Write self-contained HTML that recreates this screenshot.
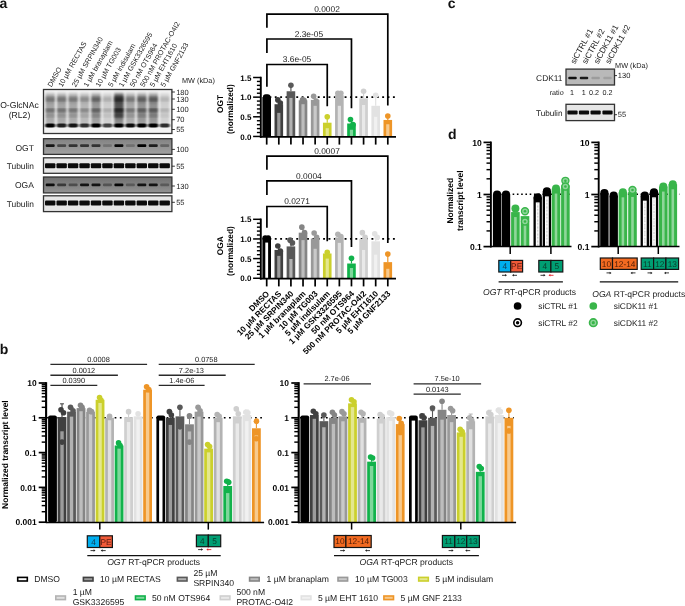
<!DOCTYPE html><html><head><meta charset="utf-8"><title>figure</title><style>html,body{margin:0;padding:0;background:#fff;}svg{display:block;will-change:transform}svg text{text-rendering:geometricPrecision}</style></head><body>
<svg width="685" height="606" viewBox="0 0 685 606" font-family="Liberation Sans, Arial, sans-serif">
<defs><filter id="b1" x="-20%" y="-50%" width="140%" height="200%"><feGaussianBlur stdDeviation="0.9 0.6"/></filter><filter id="b2" x="-30%" y="-20%" width="160%" height="140%"><feGaussianBlur stdDeviation="1.2 1.8"/></filter><linearGradient id="gg" x1="0" y1="0" x2="0" y2="1"><stop offset="0" stop-color="#828282"/><stop offset="1" stop-color="#a2a2a2"/></linearGradient><linearGradient id="gg2" x1="0" y1="0" x2="0" y2="1"><stop offset="0" stop-color="#707070"/><stop offset="1" stop-color="#929292"/></linearGradient><filter id="b3" x="-20%" y="-50%" width="140%" height="200%"><feGaussianBlur stdDeviation="0.7 0.5"/></filter></defs>
<rect x="0.00" y="0.00" width="685.00" height="606.00" fill="#fff" />
<text x="-0.50" y="7.90" font-size="14" text-anchor="start" font-weight="bold" fill="#111" >a</text>
<text x="-0.30" y="353.60" font-size="14" text-anchor="start" font-weight="bold" fill="#111" >b</text>
<text x="447.80" y="8.10" font-size="14" text-anchor="start" font-weight="bold" fill="#111" >c</text>
<text x="447.90" y="139.40" font-size="14" text-anchor="start" font-weight="bold" fill="#111" >d</text>
<text x="51.40" y="87.60" font-size="7.2" text-anchor="start" transform="rotate(-60.7 51.4 87.6)" fill="#1a1a1a" >DMSO</text>
<text x="62.15" y="87.60" font-size="7.2" text-anchor="start" transform="rotate(-60.7 62.15 87.6)" fill="#1a1a1a" >10 µM RECTAS</text>
<text x="75.70" y="87.60" font-size="7.2" text-anchor="start" transform="rotate(-60.7 75.7 87.6)" fill="#1a1a1a" >25 µM SRPIN340</text>
<text x="87.55" y="87.60" font-size="7.2" text-anchor="start" transform="rotate(-60.7 87.55 87.6)" fill="#1a1a1a" >1 µM branaplam</text>
<text x="99.60" y="87.60" font-size="7.2" text-anchor="start" transform="rotate(-60.7 99.6 87.6)" fill="#1a1a1a" >10 µM TG003</text>
<text x="112.05" y="87.60" font-size="7.2" text-anchor="start" transform="rotate(-60.7 112.05 87.6)" fill="#1a1a1a" >5 µM indisulam</text>
<text x="122.70" y="87.60" font-size="7.2" text-anchor="start" transform="rotate(-60.7 122.7 87.6)" fill="#1a1a1a" >1 µM GSK3326595</text>
<text x="133.75" y="87.60" font-size="7.2" text-anchor="start" transform="rotate(-60.7 133.75 87.6)" fill="#1a1a1a" >50 nM OTS964</text>
<text x="144.00" y="87.60" font-size="7.2" text-anchor="start" transform="rotate(-60.7 144 87.6)" fill="#1a1a1a" >500 nM PROTAC-O4I2</text>
<text x="153.75" y="87.60" font-size="7.2" text-anchor="start" transform="rotate(-60.7 153.75 87.6)" fill="#1a1a1a" >5 µM EHT1610</text>
<text x="164.60" y="87.60" font-size="7.2" text-anchor="start" transform="rotate(-60.7 164.6 87.6)" fill="#1a1a1a" >5 µM GNF2133</text>
<text x="182.00" y="83.20" font-size="7.3" text-anchor="start" fill="#1a1a1a" >MW (kDa)</text>
<rect x="43.50" y="89.50" width="128.40" height="44.00" fill="#f3f3f3" />
<linearGradient id="lg" x1="0" y1="0" x2="0" y2="1"><stop offset="0" stop-color="#000" stop-opacity="0.08"/><stop offset="0.10" stop-color="#000" stop-opacity="0.52"/><stop offset="0.25" stop-color="#000" stop-opacity="0.62"/><stop offset="0.40" stop-color="#000" stop-opacity="0.44"/><stop offset="0.55" stop-color="#000" stop-opacity="0.58"/><stop offset="0.70" stop-color="#000" stop-opacity="0.47"/><stop offset="0.85" stop-color="#000" stop-opacity="0.44"/><stop offset="1" stop-color="#000" stop-opacity="0.40"/></linearGradient>
<clipPath id="c1"><rect x="43.5" y="89.5" width="128.4" height="44.0"/></clipPath><g clip-path="url(#c1)">
<rect x="45.50" y="92.5" width="9.4" height="33" fill="url(#lg)" opacity="0.68" filter="url(#b2)"/>
<rect x="45.50" y="97.6" width="9.4" height="3.4" fill="#000" opacity="0.28" filter="url(#b2)"/>
<rect x="45.50" y="108.7" width="9.4" height="3.0" fill="#000" opacity="0.37" filter="url(#b2)"/>
<rect x="45.50" y="114.3" width="9.4" height="3.0" fill="#000" opacity="0.16" filter="url(#b2)"/>
<rect x="45.20" y="123.6" width="10" height="4.0" rx="1.8" fill="#000" opacity="1.00" filter="url(#b1)"/>
<rect x="56.95" y="92.5" width="9.4" height="33" fill="url(#lg)" opacity="0.68" filter="url(#b2)"/>
<rect x="56.95" y="97.6" width="9.4" height="3.4" fill="#000" opacity="0.28" filter="url(#b2)"/>
<rect x="56.95" y="108.7" width="9.4" height="3.0" fill="#000" opacity="0.37" filter="url(#b2)"/>
<rect x="56.95" y="114.3" width="9.4" height="3.0" fill="#000" opacity="0.16" filter="url(#b2)"/>
<rect x="56.65" y="123.6" width="10" height="4.0" rx="1.8" fill="#000" opacity="0.85" filter="url(#b1)"/>
<rect x="68.40" y="92.5" width="9.4" height="33" fill="url(#lg)" opacity="0.66" filter="url(#b2)"/>
<rect x="68.40" y="97.6" width="9.4" height="3.4" fill="#000" opacity="0.27" filter="url(#b2)"/>
<rect x="68.40" y="108.7" width="9.4" height="3.0" fill="#000" opacity="0.36" filter="url(#b2)"/>
<rect x="68.40" y="114.3" width="9.4" height="3.0" fill="#000" opacity="0.16" filter="url(#b2)"/>
<rect x="68.10" y="123.6" width="10" height="4.0" rx="1.8" fill="#000" opacity="0.90" filter="url(#b1)"/>
<rect x="79.85" y="92.5" width="9.4" height="33" fill="url(#lg)" opacity="0.53" filter="url(#b2)"/>
<rect x="79.85" y="97.6" width="9.4" height="3.4" fill="#000" opacity="0.22" filter="url(#b2)"/>
<rect x="79.85" y="108.7" width="9.4" height="3.0" fill="#000" opacity="0.29" filter="url(#b2)"/>
<rect x="79.85" y="114.3" width="9.4" height="3.0" fill="#000" opacity="0.13" filter="url(#b2)"/>
<rect x="79.55" y="123.6" width="10" height="4.0" rx="1.8" fill="#000" opacity="0.78" filter="url(#b1)"/>
<rect x="91.30" y="92.5" width="9.4" height="33" fill="url(#lg)" opacity="0.79" filter="url(#b2)"/>
<rect x="91.30" y="97.6" width="9.4" height="3.4" fill="#000" opacity="0.33" filter="url(#b2)"/>
<rect x="91.30" y="108.7" width="9.4" height="3.0" fill="#000" opacity="0.43" filter="url(#b2)"/>
<rect x="91.30" y="114.3" width="9.4" height="3.0" fill="#000" opacity="0.19" filter="url(#b2)"/>
<rect x="91.00" y="123.6" width="10" height="4.0" rx="1.8" fill="#000" opacity="1.00" filter="url(#b1)"/>
<rect x="102.75" y="92.5" width="9.4" height="33" fill="url(#lg)" opacity="0.33" filter="url(#b2)"/>
<rect x="102.75" y="97.6" width="9.4" height="3.4" fill="#000" opacity="0.14" filter="url(#b2)"/>
<rect x="102.75" y="108.7" width="9.4" height="3.0" fill="#000" opacity="0.18" filter="url(#b2)"/>
<rect x="102.75" y="114.3" width="9.4" height="3.0" fill="#000" opacity="0.08" filter="url(#b2)"/>
<rect x="102.45" y="123.6" width="10" height="4.0" rx="1.8" fill="#000" opacity="0.70" filter="url(#b1)"/>
<rect x="114.20" y="92.5" width="9.4" height="33" fill="url(#lg)" opacity="1.00" filter="url(#b2)"/>
<rect x="114.20" y="97.6" width="9.4" height="3.4" fill="#000" opacity="0.52" filter="url(#b2)"/>
<rect x="114.20" y="108.7" width="9.4" height="3.0" fill="#000" opacity="0.69" filter="url(#b2)"/>
<rect x="114.20" y="114.3" width="9.4" height="3.0" fill="#000" opacity="0.30" filter="url(#b2)"/>
<rect x="114.20" y="94" width="9.4" height="24" fill="#000" opacity="0.35" filter="url(#b2)"/>
<rect x="113.90" y="123.6" width="10" height="4.0" rx="1.8" fill="#000" opacity="1.00" filter="url(#b1)"/>
<rect x="125.65" y="92.5" width="9.4" height="33" fill="url(#lg)" opacity="0.66" filter="url(#b2)"/>
<rect x="125.65" y="97.6" width="9.4" height="3.4" fill="#000" opacity="0.27" filter="url(#b2)"/>
<rect x="125.65" y="108.7" width="9.4" height="3.0" fill="#000" opacity="0.36" filter="url(#b2)"/>
<rect x="125.65" y="114.3" width="9.4" height="3.0" fill="#000" opacity="0.16" filter="url(#b2)"/>
<rect x="125.35" y="123.6" width="10" height="4.0" rx="1.8" fill="#000" opacity="0.95" filter="url(#b1)"/>
<rect x="137.10" y="92.5" width="9.4" height="33" fill="url(#lg)" opacity="0.83" filter="url(#b2)"/>
<rect x="137.10" y="97.6" width="9.4" height="3.4" fill="#000" opacity="0.34" filter="url(#b2)"/>
<rect x="137.10" y="108.7" width="9.4" height="3.0" fill="#000" opacity="0.45" filter="url(#b2)"/>
<rect x="137.10" y="114.3" width="9.4" height="3.0" fill="#000" opacity="0.20" filter="url(#b2)"/>
<rect x="136.80" y="123.6" width="10" height="4.0" rx="1.8" fill="#000" opacity="1.00" filter="url(#b1)"/>
<rect x="148.55" y="92.5" width="9.4" height="33" fill="url(#lg)" opacity="0.86" filter="url(#b2)"/>
<rect x="148.55" y="97.6" width="9.4" height="3.4" fill="#000" opacity="0.36" filter="url(#b2)"/>
<rect x="148.55" y="108.7" width="9.4" height="3.0" fill="#000" opacity="0.47" filter="url(#b2)"/>
<rect x="148.55" y="114.3" width="9.4" height="3.0" fill="#000" opacity="0.21" filter="url(#b2)"/>
<rect x="148.25" y="123.6" width="10" height="4.0" rx="1.8" fill="#000" opacity="1.00" filter="url(#b1)"/>
<rect x="160.00" y="92.5" width="9.4" height="33" fill="url(#lg)" opacity="0.30" filter="url(#b2)"/>
<rect x="160.00" y="97.6" width="9.4" height="3.4" fill="#000" opacity="0.12" filter="url(#b2)"/>
<rect x="160.00" y="108.7" width="9.4" height="3.0" fill="#000" opacity="0.16" filter="url(#b2)"/>
<rect x="160.00" y="114.3" width="9.4" height="3.0" fill="#000" opacity="0.07" filter="url(#b2)"/>
<rect x="159.70" y="123.6" width="10" height="4.0" rx="1.8" fill="#000" opacity="0.80" filter="url(#b1)"/>
</g>
<rect x="43.50" y="89.50" width="128.40" height="44.00" fill="none" stroke="#333" stroke-width="1.3" />
<rect x="43.50" y="138.70" width="128.40" height="15.70" fill="url(#gg)" />
<rect x="45.70" y="144.25" width="9.0" height="2.7" rx="1" fill="#000" opacity="0.85" filter="url(#b3)"/>
<rect x="57.15" y="144.25" width="9.0" height="2.7" rx="1" fill="#000" opacity="0.50" filter="url(#b3)"/>
<rect x="68.60" y="144.25" width="9.0" height="2.7" rx="1" fill="#000" opacity="0.65" filter="url(#b3)"/>
<rect x="80.05" y="144.25" width="9.0" height="2.7" rx="1" fill="#000" opacity="0.65" filter="url(#b3)"/>
<rect x="91.50" y="144.25" width="9.0" height="2.7" rx="1" fill="#000" opacity="0.65" filter="url(#b3)"/>
<rect x="102.95" y="144.25" width="9.0" height="2.7" rx="1" fill="#000" opacity="0.20" filter="url(#b3)"/>
<rect x="114.40" y="144.25" width="9.0" height="2.7" rx="1" fill="#000" opacity="0.95" filter="url(#b3)"/>
<rect x="125.85" y="144.25" width="9.0" height="2.7" rx="1" fill="#000" opacity="0.22" filter="url(#b3)"/>
<rect x="137.30" y="144.25" width="9.0" height="2.7" rx="1" fill="#000" opacity="1.00" filter="url(#b3)"/>
<rect x="148.75" y="144.25" width="9.0" height="2.7" rx="1" fill="#000" opacity="0.80" filter="url(#b3)"/>
<rect x="160.20" y="144.25" width="9.0" height="2.7" rx="1" fill="#000" opacity="0.30" filter="url(#b3)"/>
<rect x="43.50" y="138.70" width="128.40" height="15.70" fill="none" stroke="#333" stroke-width="1.3" />
<rect x="43.50" y="157.80" width="128.40" height="15.50" fill="#e6e6e6" />
<rect x="45.00" y="163.35" width="10.4" height="4.9" rx="1" fill="#000" opacity="0.95" filter="url(#b3)"/>
<rect x="56.45" y="163.35" width="10.4" height="4.9" rx="1" fill="#000" opacity="0.95" filter="url(#b3)"/>
<rect x="67.90" y="163.35" width="10.4" height="4.9" rx="1" fill="#000" opacity="0.95" filter="url(#b3)"/>
<rect x="79.35" y="163.35" width="10.4" height="4.9" rx="1" fill="#000" opacity="0.95" filter="url(#b3)"/>
<rect x="90.80" y="163.35" width="10.4" height="4.9" rx="1" fill="#000" opacity="0.95" filter="url(#b3)"/>
<rect x="102.25" y="163.35" width="10.4" height="4.9" rx="1" fill="#000" opacity="0.95" filter="url(#b3)"/>
<rect x="113.70" y="163.35" width="10.4" height="4.9" rx="1" fill="#000" opacity="0.95" filter="url(#b3)"/>
<rect x="125.15" y="163.35" width="10.4" height="4.9" rx="1" fill="#000" opacity="0.95" filter="url(#b3)"/>
<rect x="136.60" y="163.35" width="10.4" height="4.9" rx="1" fill="#000" opacity="0.95" filter="url(#b3)"/>
<rect x="148.05" y="163.35" width="10.4" height="4.9" rx="1" fill="#000" opacity="0.95" filter="url(#b3)"/>
<rect x="159.50" y="163.35" width="10.4" height="4.9" rx="1" fill="#000" opacity="0.95" filter="url(#b3)"/>
<rect x="43.50" y="157.80" width="128.40" height="15.50" fill="none" stroke="#333" stroke-width="1.3" />
<rect x="43.50" y="177.00" width="128.40" height="15.90" fill="url(#gg2)" />
<rect x="45.70" y="183.45" width="9.0" height="2.7" rx="1" fill="#000" opacity="0.90" filter="url(#b3)"/>
<rect x="57.15" y="183.45" width="9.0" height="2.7" rx="1" fill="#000" opacity="0.55" filter="url(#b3)"/>
<rect x="68.60" y="183.45" width="9.0" height="2.7" rx="1" fill="#000" opacity="0.40" filter="url(#b3)"/>
<rect x="80.05" y="183.45" width="9.0" height="2.7" rx="1" fill="#000" opacity="0.85" filter="url(#b3)"/>
<rect x="91.50" y="183.45" width="9.0" height="2.7" rx="1" fill="#000" opacity="0.85" filter="url(#b3)"/>
<rect x="102.95" y="183.45" width="9.0" height="2.7" rx="1" fill="#000" opacity="0.35" filter="url(#b3)"/>
<rect x="114.40" y="183.45" width="9.0" height="2.7" rx="1" fill="#000" opacity="0.95" filter="url(#b3)"/>
<rect x="125.85" y="183.45" width="9.0" height="2.7" rx="1" fill="#000" opacity="0.30" filter="url(#b3)"/>
<rect x="137.30" y="183.45" width="9.0" height="2.7" rx="1" fill="#000" opacity="0.85" filter="url(#b3)"/>
<rect x="148.75" y="183.45" width="9.0" height="2.7" rx="1" fill="#000" opacity="0.85" filter="url(#b3)"/>
<rect x="160.20" y="183.45" width="9.0" height="2.7" rx="1" fill="#000" opacity="0.30" filter="url(#b3)"/>
<rect x="43.50" y="177.00" width="128.40" height="15.90" fill="none" stroke="#333" stroke-width="1.3" />
<rect x="43.50" y="195.80" width="128.40" height="15.80" fill="#e6e6e6" />
<rect x="45.00" y="200.55" width="10.4" height="4.9" rx="1" fill="#000" opacity="0.95" filter="url(#b3)"/>
<rect x="56.45" y="200.55" width="10.4" height="4.9" rx="1" fill="#000" opacity="0.95" filter="url(#b3)"/>
<rect x="67.90" y="200.55" width="10.4" height="4.9" rx="1" fill="#000" opacity="0.95" filter="url(#b3)"/>
<rect x="79.35" y="200.55" width="10.4" height="4.9" rx="1" fill="#000" opacity="0.95" filter="url(#b3)"/>
<rect x="90.80" y="200.55" width="10.4" height="4.9" rx="1" fill="#000" opacity="0.95" filter="url(#b3)"/>
<rect x="102.25" y="200.55" width="10.4" height="4.9" rx="1" fill="#000" opacity="0.95" filter="url(#b3)"/>
<rect x="113.70" y="200.55" width="10.4" height="4.9" rx="1" fill="#000" opacity="0.95" filter="url(#b3)"/>
<rect x="125.15" y="200.55" width="10.4" height="4.9" rx="1" fill="#000" opacity="0.95" filter="url(#b3)"/>
<rect x="136.60" y="200.55" width="10.4" height="4.9" rx="1" fill="#000" opacity="0.95" filter="url(#b3)"/>
<rect x="148.05" y="200.55" width="10.4" height="4.9" rx="1" fill="#000" opacity="0.95" filter="url(#b3)"/>
<rect x="159.50" y="200.55" width="10.4" height="4.9" rx="1" fill="#000" opacity="0.95" filter="url(#b3)"/>
<rect x="43.50" y="195.80" width="128.40" height="15.80" fill="none" stroke="#333" stroke-width="1.3" />
<line x1="171.90" y1="92.00" x2="174.90" y2="92.00" stroke="#222" stroke-width="0.9" />
<text x="176.20" y="94.70" font-size="7.5" text-anchor="start" fill="#1a1a1a" >180</text>
<line x1="171.90" y1="99.00" x2="174.90" y2="99.00" stroke="#222" stroke-width="0.9" />
<text x="176.20" y="101.70" font-size="7.5" text-anchor="start" fill="#1a1a1a" >130</text>
<line x1="171.90" y1="109.30" x2="174.90" y2="109.30" stroke="#222" stroke-width="0.9" />
<text x="176.20" y="112.00" font-size="7.5" text-anchor="start" fill="#1a1a1a" >100</text>
<line x1="171.90" y1="119.70" x2="174.90" y2="119.70" stroke="#222" stroke-width="0.9" />
<text x="176.20" y="122.40" font-size="7.5" text-anchor="start" fill="#1a1a1a" >70</text>
<line x1="171.90" y1="129.50" x2="174.90" y2="129.50" stroke="#222" stroke-width="0.9" />
<text x="176.20" y="132.20" font-size="7.5" text-anchor="start" fill="#1a1a1a" >55</text>
<line x1="171.90" y1="149.40" x2="174.90" y2="149.40" stroke="#222" stroke-width="0.9" />
<text x="176.20" y="152.10" font-size="7.5" text-anchor="start" fill="#1a1a1a" >100</text>
<line x1="171.90" y1="166.20" x2="174.90" y2="166.20" stroke="#222" stroke-width="0.9" />
<text x="176.20" y="168.90" font-size="7.5" text-anchor="start" fill="#1a1a1a" >55</text>
<line x1="171.90" y1="186.00" x2="174.90" y2="186.00" stroke="#222" stroke-width="0.9" />
<text x="176.20" y="188.70" font-size="7.5" text-anchor="start" fill="#1a1a1a" >130</text>
<line x1="171.90" y1="202.30" x2="174.90" y2="202.30" stroke="#222" stroke-width="0.9" />
<text x="176.20" y="205.00" font-size="7.5" text-anchor="start" fill="#1a1a1a" >55</text>
<text x="19.50" y="107.80" font-size="8.6" text-anchor="middle" fill="#1a1a1a" >O-GlcNAc</text>
<text x="19.50" y="118.40" font-size="8.6" text-anchor="middle" fill="#1a1a1a" >(RL2)</text>
<text x="33.90" y="150.60" font-size="8.5" text-anchor="end" fill="#1a1a1a" >OGT</text>
<text x="33.90" y="169.20" font-size="8.4" text-anchor="end" fill="#1a1a1a" >Tubulin</text>
<text x="33.90" y="188.20" font-size="8.5" text-anchor="end" fill="#1a1a1a" >OGA</text>
<text x="33.90" y="206.80" font-size="8.4" text-anchor="end" fill="#1a1a1a" >Tubulin</text>
<line x1="264.05" y1="97.15" x2="395.2" y2="97.15" stroke="#000" stroke-width="1.7" stroke-dasharray="1.9 3.47" />
<line x1="266.70" y1="96.36" x2="266.70" y2="97.15" stroke="#000000" stroke-width="1.2" />
<rect x="262.40" y="97.15" width="8.60" height="39.30" fill="#000000" />
<circle cx="265.70" cy="97.15" r="2.8" fill="#000000"/>
<circle cx="267.70" cy="97.15" r="2.8" fill="#000000"/>
<line x1="278.81" y1="100.29" x2="278.81" y2="104.22" stroke="#404040" stroke-width="1.2" />
<rect x="274.51" y="104.22" width="8.60" height="32.23" fill="#404040" />
<rect x="277.21" y="112.87" width="3.20" height="23.58" fill="#9c9c9c" />
<circle cx="277.81" cy="99.90" r="2.8" fill="#404040"/>
<circle cx="280.31" cy="103.04" r="2.8" fill="#404040"/>
<line x1="290.92" y1="85.36" x2="290.92" y2="91.25" stroke="#595959" stroke-width="1.2" />
<rect x="286.62" y="91.25" width="8.60" height="45.19" fill="#595959" />
<rect x="289.32" y="97.94" width="3.20" height="38.51" fill="#b2b2b2" />
<circle cx="290.92" cy="85.36" r="2.8" fill="#595959"/>
<line x1="303.03" y1="99.11" x2="303.03" y2="100.29" stroke="#858585" stroke-width="1.2" />
<rect x="298.73" y="100.29" width="8.60" height="36.16" fill="#858585" />
<rect x="301.43" y="104.22" width="3.20" height="32.23" fill="#bdbdbd" />
<circle cx="302.53" cy="99.90" r="2.8" fill="#858585"/>
<circle cx="304.03" cy="100.29" r="2.8" fill="#858585"/>
<line x1="315.14" y1="97.54" x2="315.14" y2="99.90" stroke="#999999" stroke-width="1.2" />
<rect x="310.84" y="99.90" width="8.60" height="36.55" fill="#999999" />
<rect x="313.54" y="105.80" width="3.20" height="30.65" fill="#c9c9c9" />
<circle cx="313.64" cy="96.36" r="2.8" fill="#999999"/>
<circle cx="316.14" cy="101.08" r="2.8" fill="#999999"/>
<line x1="327.25" y1="117.19" x2="327.25" y2="122.69" stroke="#cbd02c" stroke-width="1.2" />
<rect x="322.95" y="122.69" width="8.60" height="13.75" fill="#cbd02c" />
<rect x="325.65" y="128.20" width="3.20" height="8.25" fill="#e4e78e" />
<circle cx="327.25" cy="116.80" r="2.8" fill="#cbd02c"/>
<line x1="339.36" y1="92.04" x2="339.36" y2="95.18" stroke="#b3b3b3" stroke-width="1.2" />
<rect x="335.06" y="95.18" width="8.60" height="41.27" fill="#b3b3b3" />
<rect x="337.76" y="105.80" width="3.20" height="30.65" fill="#e0e0e0" />
<circle cx="337.86" cy="93.22" r="2.8" fill="#b3b3b3"/>
<circle cx="340.86" cy="93.22" r="2.8" fill="#b3b3b3"/>
<line x1="351.47" y1="120.34" x2="351.47" y2="123.48" stroke="#11b24b" stroke-width="1.2" />
<rect x="347.17" y="123.48" width="8.60" height="12.97" fill="#11b24b" />
<rect x="349.87" y="129.77" width="3.20" height="6.68" fill="#7fd79c" />
<circle cx="350.47" cy="119.55" r="2.8" fill="#11b24b"/>
<circle cx="352.97" cy="124.66" r="2.8" fill="#11b24b"/>
<line x1="363.58" y1="92.43" x2="363.58" y2="98.33" stroke="#cfcfcf" stroke-width="1.2" />
<rect x="359.28" y="98.33" width="8.60" height="38.12" fill="#cfcfcf" />
<rect x="361.98" y="105.01" width="3.20" height="31.44" fill="#e9e9e9" />
<circle cx="363.58" cy="91.25" r="2.8" fill="#cfcfcf"/>
<line x1="375.69" y1="95.97" x2="375.69" y2="105.80" stroke="#e2e2e2" stroke-width="1.2" />
<rect x="371.39" y="105.80" width="8.60" height="30.65" fill="#e2e2e2" />
<rect x="374.09" y="116.80" width="3.20" height="19.65" fill="#f1f1f1" />
<circle cx="375.69" cy="95.18" r="2.8" fill="#e2e2e2"/>
<line x1="387.80" y1="116.80" x2="387.80" y2="119.94" stroke="#ee9527" stroke-width="1.2" />
<rect x="383.50" y="119.94" width="8.60" height="16.51" fill="#ee9527" />
<rect x="386.20" y="124.27" width="3.20" height="12.18" fill="#f7ca8e" />
<circle cx="387.80" cy="116.01" r="2.8" fill="#ee9527"/>
<line x1="260.80" y1="76.75" x2="260.80" y2="137.75" stroke="#000" stroke-width="1.9" />
<line x1="259.90" y1="136.90" x2="396.00" y2="136.90" stroke="#000" stroke-width="1.7" />
<line x1="253.10" y1="136.45" x2="260.80" y2="136.45" stroke="#000" stroke-width="1.5" />
<text x="251.40" y="139.50" font-size="8.0" text-anchor="end" font-weight="bold" fill="#000" >0.0</text>
<line x1="256.90" y1="132.52" x2="260.80" y2="132.52" stroke="#000" stroke-width="1.4" />
<line x1="256.90" y1="128.59" x2="260.80" y2="128.59" stroke="#000" stroke-width="1.4" />
<line x1="256.90" y1="124.66" x2="260.80" y2="124.66" stroke="#000" stroke-width="1.4" />
<line x1="256.90" y1="120.73" x2="260.80" y2="120.73" stroke="#000" stroke-width="1.4" />
<line x1="253.10" y1="116.80" x2="260.80" y2="116.80" stroke="#000" stroke-width="1.5" />
<text x="251.40" y="119.85" font-size="8.0" text-anchor="end" font-weight="bold" fill="#000" >0.5</text>
<line x1="256.90" y1="112.87" x2="260.80" y2="112.87" stroke="#000" stroke-width="1.4" />
<line x1="256.90" y1="108.94" x2="260.80" y2="108.94" stroke="#000" stroke-width="1.4" />
<line x1="256.90" y1="105.01" x2="260.80" y2="105.01" stroke="#000" stroke-width="1.4" />
<line x1="256.90" y1="101.08" x2="260.80" y2="101.08" stroke="#000" stroke-width="1.4" />
<line x1="253.10" y1="97.15" x2="260.80" y2="97.15" stroke="#000" stroke-width="1.5" />
<text x="251.40" y="100.20" font-size="8.0" text-anchor="end" font-weight="bold" fill="#000" >1.0</text>
<line x1="256.90" y1="93.22" x2="260.80" y2="93.22" stroke="#000" stroke-width="1.4" />
<line x1="256.90" y1="89.29" x2="260.80" y2="89.29" stroke="#000" stroke-width="1.4" />
<line x1="256.90" y1="85.36" x2="260.80" y2="85.36" stroke="#000" stroke-width="1.4" />
<line x1="256.90" y1="81.43" x2="260.80" y2="81.43" stroke="#000" stroke-width="1.4" />
<line x1="253.10" y1="77.50" x2="260.80" y2="77.50" stroke="#000" stroke-width="1.5" />
<text x="251.40" y="80.55" font-size="8.0" text-anchor="end" font-weight="bold" fill="#000" >1.5</text>
<line x1="266.70" y1="136.90" x2="266.70" y2="144.60" stroke="#000" stroke-width="1.7" />
<line x1="278.81" y1="136.90" x2="278.81" y2="144.60" stroke="#000" stroke-width="1.7" />
<line x1="290.92" y1="136.90" x2="290.92" y2="144.60" stroke="#000" stroke-width="1.7" />
<line x1="303.03" y1="136.90" x2="303.03" y2="144.60" stroke="#000" stroke-width="1.7" />
<line x1="315.14" y1="136.90" x2="315.14" y2="144.60" stroke="#000" stroke-width="1.7" />
<line x1="327.25" y1="136.90" x2="327.25" y2="144.60" stroke="#000" stroke-width="1.7" />
<line x1="339.36" y1="136.90" x2="339.36" y2="144.60" stroke="#000" stroke-width="1.7" />
<line x1="351.47" y1="136.90" x2="351.47" y2="144.60" stroke="#000" stroke-width="1.7" />
<line x1="363.58" y1="136.90" x2="363.58" y2="144.60" stroke="#000" stroke-width="1.7" />
<line x1="375.69" y1="136.90" x2="375.69" y2="144.60" stroke="#000" stroke-width="1.7" />
<line x1="387.80" y1="136.90" x2="387.80" y2="144.60" stroke="#000" stroke-width="1.7" />
<polyline points="266.9,27.8 266.9,14.1 387.80,14.1 387.80,105.5" fill="none" stroke="#000" stroke-width="1.7"/>
<text x="327.00" y="11.90" font-size="8.4" text-anchor="middle" fill="#1a1a1a" >0.0002</text>
<polyline points="266.9,52.9 266.9,39 351.47,39 351.47,108.3" fill="none" stroke="#000" stroke-width="1.7"/>
<text x="308.90" y="36.80" font-size="8.4" text-anchor="middle" fill="#1a1a1a" >2.3e-05</text>
<polyline points="266.9,86.7 266.9,64.5 327.25,64.5 327.25,106.3" fill="none" stroke="#000" stroke-width="1.7"/>
<text x="297.00" y="62.30" font-size="8.4" text-anchor="middle" fill="#1a1a1a" >3.6e-05</text>
<text x="222.80" y="103.97" font-size="8.3" text-anchor="middle" font-weight="bold" transform="rotate(-90 222.8 103.975)" fill="#000" >OGT</text>
<text x="233.00" y="109.17" font-size="8.4" text-anchor="middle" font-weight="bold" transform="rotate(-90 233 109.175)" fill="#000" >(normalized)</text>
<line x1="264.05" y1="238.95" x2="395.2" y2="238.95" stroke="#000" stroke-width="1.7" stroke-dasharray="1.9 3.47" />
<line x1="266.70" y1="237.77" x2="266.70" y2="237.77" stroke="#000000" stroke-width="1.2" />
<rect x="262.40" y="237.77" width="8.60" height="40.48" fill="#000000" />
<rect x="265.30" y="242.57" width="2.80" height="35.68" fill="#fff" />
<circle cx="265.20" cy="238.16" r="2.8" fill="#000000"/>
<circle cx="268.20" cy="238.16" r="2.8" fill="#000000"/>
<line x1="278.81" y1="246.81" x2="278.81" y2="249.95" stroke="#404040" stroke-width="1.2" />
<rect x="274.51" y="249.95" width="8.60" height="28.30" fill="#404040" />
<rect x="277.21" y="255.85" width="3.20" height="22.40" fill="#9c9c9c" />
<circle cx="277.81" cy="246.02" r="2.8" fill="#404040"/>
<circle cx="280.31" cy="251.13" r="2.8" fill="#404040"/>
<line x1="290.92" y1="241.70" x2="290.92" y2="246.42" stroke="#595959" stroke-width="1.2" />
<rect x="286.62" y="246.42" width="8.60" height="31.83" fill="#595959" />
<rect x="289.32" y="258.99" width="3.20" height="19.26" fill="#b2b2b2" />
<circle cx="290.12" cy="240.13" r="2.8" fill="#595959"/>
<circle cx="292.42" cy="242.88" r="2.8" fill="#595959"/>
<line x1="303.03" y1="227.95" x2="303.03" y2="232.66" stroke="#858585" stroke-width="1.2" />
<rect x="298.73" y="232.66" width="8.60" height="45.59" fill="#858585" />
<rect x="301.43" y="240.13" width="3.20" height="38.12" fill="#bdbdbd" />
<circle cx="301.83" cy="227.16" r="2.8" fill="#858585"/>
<circle cx="304.53" cy="232.66" r="2.8" fill="#858585"/>
<line x1="315.14" y1="234.63" x2="315.14" y2="238.56" stroke="#999999" stroke-width="1.2" />
<rect x="310.84" y="238.56" width="8.60" height="39.69" fill="#999999" />
<rect x="313.54" y="248.78" width="3.20" height="29.47" fill="#c9c9c9" />
<circle cx="314.14" cy="233.06" r="2.8" fill="#999999"/>
<circle cx="316.64" cy="237.38" r="2.8" fill="#999999"/>
<line x1="327.25" y1="251.92" x2="327.25" y2="253.49" stroke="#cbd02c" stroke-width="1.2" />
<rect x="322.95" y="253.49" width="8.60" height="24.76" fill="#cbd02c" />
<rect x="325.65" y="258.60" width="3.20" height="19.65" fill="#e4e78e" />
<circle cx="327.25" cy="252.31" r="2.8" fill="#cbd02c"/>
<line x1="339.36" y1="235.41" x2="339.36" y2="237.38" stroke="#b3b3b3" stroke-width="1.2" />
<rect x="335.06" y="237.38" width="8.60" height="40.87" fill="#b3b3b3" />
<rect x="337.76" y="242.88" width="3.20" height="35.37" fill="#e0e0e0" />
<circle cx="337.86" cy="234.23" r="2.8" fill="#b3b3b3"/>
<circle cx="340.86" cy="236.59" r="2.8" fill="#b3b3b3"/>
<line x1="351.47" y1="259.58" x2="351.47" y2="263.51" stroke="#11b24b" stroke-width="1.2" />
<rect x="347.17" y="263.51" width="8.60" height="14.74" fill="#11b24b" />
<rect x="349.87" y="268.03" width="3.20" height="10.22" fill="#7fd79c" />
<circle cx="351.47" cy="258.21" r="2.8" fill="#11b24b"/>
<line x1="363.58" y1="234.23" x2="363.58" y2="238.95" stroke="#cfcfcf" stroke-width="1.2" />
<rect x="359.28" y="238.95" width="8.60" height="39.30" fill="#cfcfcf" />
<rect x="361.98" y="249.95" width="3.20" height="28.30" fill="#e9e9e9" />
<circle cx="362.38" cy="232.66" r="2.8" fill="#cfcfcf"/>
<circle cx="365.08" cy="237.38" r="2.8" fill="#cfcfcf"/>
<line x1="375.69" y1="236.59" x2="375.69" y2="241.31" stroke="#e2e2e2" stroke-width="1.2" />
<rect x="371.39" y="241.31" width="8.60" height="36.94" fill="#e2e2e2" />
<rect x="374.09" y="254.67" width="3.20" height="23.58" fill="#f1f1f1" />
<circle cx="374.69" cy="233.84" r="2.8" fill="#e2e2e2"/>
<circle cx="377.19" cy="237.38" r="2.8" fill="#e2e2e2"/>
<line x1="387.80" y1="255.06" x2="387.80" y2="262.14" stroke="#ee9527" stroke-width="1.2" />
<rect x="383.50" y="262.14" width="8.60" height="16.11" fill="#ee9527" />
<rect x="386.20" y="268.82" width="3.20" height="9.43" fill="#f7ca8e" />
<circle cx="387.80" cy="254.08" r="2.8" fill="#ee9527"/>
<line x1="260.80" y1="218.55" x2="260.80" y2="279.55" stroke="#000" stroke-width="1.9" />
<line x1="259.90" y1="278.70" x2="396.00" y2="278.70" stroke="#000" stroke-width="1.7" />
<line x1="253.10" y1="278.25" x2="260.80" y2="278.25" stroke="#000" stroke-width="1.5" />
<text x="251.40" y="281.30" font-size="8.0" text-anchor="end" font-weight="bold" fill="#000" >0.0</text>
<line x1="256.90" y1="274.32" x2="260.80" y2="274.32" stroke="#000" stroke-width="1.4" />
<line x1="256.90" y1="270.39" x2="260.80" y2="270.39" stroke="#000" stroke-width="1.4" />
<line x1="256.90" y1="266.46" x2="260.80" y2="266.46" stroke="#000" stroke-width="1.4" />
<line x1="256.90" y1="262.53" x2="260.80" y2="262.53" stroke="#000" stroke-width="1.4" />
<line x1="253.10" y1="258.60" x2="260.80" y2="258.60" stroke="#000" stroke-width="1.5" />
<text x="251.40" y="261.65" font-size="8.0" text-anchor="end" font-weight="bold" fill="#000" >0.5</text>
<line x1="256.90" y1="254.67" x2="260.80" y2="254.67" stroke="#000" stroke-width="1.4" />
<line x1="256.90" y1="250.74" x2="260.80" y2="250.74" stroke="#000" stroke-width="1.4" />
<line x1="256.90" y1="246.81" x2="260.80" y2="246.81" stroke="#000" stroke-width="1.4" />
<line x1="256.90" y1="242.88" x2="260.80" y2="242.88" stroke="#000" stroke-width="1.4" />
<line x1="253.10" y1="238.95" x2="260.80" y2="238.95" stroke="#000" stroke-width="1.5" />
<text x="251.40" y="242.00" font-size="8.0" text-anchor="end" font-weight="bold" fill="#000" >1.0</text>
<line x1="256.90" y1="235.02" x2="260.80" y2="235.02" stroke="#000" stroke-width="1.4" />
<line x1="256.90" y1="231.09" x2="260.80" y2="231.09" stroke="#000" stroke-width="1.4" />
<line x1="256.90" y1="227.16" x2="260.80" y2="227.16" stroke="#000" stroke-width="1.4" />
<line x1="256.90" y1="223.23" x2="260.80" y2="223.23" stroke="#000" stroke-width="1.4" />
<line x1="253.10" y1="219.30" x2="260.80" y2="219.30" stroke="#000" stroke-width="1.5" />
<text x="251.40" y="222.35" font-size="8.0" text-anchor="end" font-weight="bold" fill="#000" >1.5</text>
<line x1="266.70" y1="278.70" x2="266.70" y2="286.40" stroke="#000" stroke-width="1.7" />
<line x1="278.81" y1="278.70" x2="278.81" y2="286.40" stroke="#000" stroke-width="1.7" />
<line x1="290.92" y1="278.70" x2="290.92" y2="286.40" stroke="#000" stroke-width="1.7" />
<line x1="303.03" y1="278.70" x2="303.03" y2="286.40" stroke="#000" stroke-width="1.7" />
<line x1="315.14" y1="278.70" x2="315.14" y2="286.40" stroke="#000" stroke-width="1.7" />
<line x1="327.25" y1="278.70" x2="327.25" y2="286.40" stroke="#000" stroke-width="1.7" />
<line x1="339.36" y1="278.70" x2="339.36" y2="286.40" stroke="#000" stroke-width="1.7" />
<line x1="351.47" y1="278.70" x2="351.47" y2="286.40" stroke="#000" stroke-width="1.7" />
<line x1="363.58" y1="278.70" x2="363.58" y2="286.40" stroke="#000" stroke-width="1.7" />
<line x1="375.69" y1="278.70" x2="375.69" y2="286.40" stroke="#000" stroke-width="1.7" />
<line x1="387.80" y1="278.70" x2="387.80" y2="286.40" stroke="#000" stroke-width="1.7" />
<polyline points="266.9,169.8 266.9,156.1 387.80,156.1 387.80,243" fill="none" stroke="#000" stroke-width="1.7"/>
<text x="327.00" y="153.90" font-size="8.4" text-anchor="middle" fill="#1a1a1a" >0.0007</text>
<polyline points="266.9,195 266.9,180.9 351.47,180.9 351.47,247.1" fill="none" stroke="#000" stroke-width="1.7"/>
<text x="308.90" y="178.70" font-size="8.4" text-anchor="middle" fill="#1a1a1a" >0.0004</text>
<polyline points="266.9,227.85 266.9,206.5 327.25,206.5 327.25,241.3" fill="none" stroke="#000" stroke-width="1.7"/>
<text x="297.00" y="204.30" font-size="8.4" text-anchor="middle" fill="#1a1a1a" >0.0271</text>
<text x="222.80" y="245.78" font-size="8.3" text-anchor="middle" font-weight="bold" transform="rotate(-90 222.8 245.775)" fill="#000" >OGA</text>
<text x="233.00" y="250.97" font-size="8.4" text-anchor="middle" font-weight="bold" transform="rotate(-90 233 250.975)" fill="#000" >(normalized)</text>
<text x="269.90" y="294.30" font-size="8.3" text-anchor="end" font-weight="bold" transform="rotate(-45 269.9 294.3)" fill="#000" >DMSO</text>
<text x="282.01" y="294.30" font-size="8.3" text-anchor="end" font-weight="bold" transform="rotate(-45 282.01 294.3)" fill="#000" >10 µM RECTAS</text>
<text x="294.12" y="294.30" font-size="8.3" text-anchor="end" font-weight="bold" transform="rotate(-45 294.11999999999995 294.3)" fill="#000" >25 µM SRPIN340</text>
<text x="306.23" y="294.30" font-size="8.3" text-anchor="end" font-weight="bold" transform="rotate(-45 306.22999999999996 294.3)" fill="#000" >1 µM branaplam</text>
<text x="318.34" y="294.30" font-size="8.3" text-anchor="end" font-weight="bold" transform="rotate(-45 318.34 294.3)" fill="#000" >10 µM TG003</text>
<text x="330.45" y="294.30" font-size="8.3" text-anchor="end" font-weight="bold" transform="rotate(-45 330.45 294.3)" fill="#000" >5 µM indisulam</text>
<text x="342.56" y="294.30" font-size="8.3" text-anchor="end" font-weight="bold" transform="rotate(-45 342.56 294.3)" fill="#000" >1 µM GSK3326595</text>
<text x="354.67" y="294.30" font-size="8.3" text-anchor="end" font-weight="bold" transform="rotate(-45 354.66999999999996 294.3)" fill="#000" >50 nM OTS964</text>
<text x="366.78" y="294.30" font-size="8.3" text-anchor="end" font-weight="bold" transform="rotate(-45 366.78 294.3)" fill="#000" >500 nM PROTAC-O4I2</text>
<text x="378.89" y="294.30" font-size="8.3" text-anchor="end" font-weight="bold" transform="rotate(-45 378.89 294.3)" fill="#000" >5 µM EHT1610</text>
<text x="391.00" y="294.30" font-size="8.3" text-anchor="end" font-weight="bold" transform="rotate(-45 390.99999999999994 294.3)" fill="#000" >5 µM GNF2133</text>
<text x="575.00" y="64.50" font-size="8.2" text-anchor="start" transform="rotate(-61.5 575.0 64.5)" fill="#1a1a1a" >siCTRL #1</text>
<text x="586.60" y="64.50" font-size="8.2" text-anchor="start" transform="rotate(-61.5 586.6 64.5)" fill="#1a1a1a" >siCTRL #2</text>
<text x="598.20" y="64.50" font-size="8.2" text-anchor="start" transform="rotate(-61.5 598.2 64.5)" fill="#1a1a1a" >siCDK11 #1</text>
<text x="609.80" y="64.50" font-size="8.2" text-anchor="start" transform="rotate(-61.5 609.8 64.5)" fill="#1a1a1a" >siCDK11 #2</text>
<text x="615.10" y="68.00" font-size="7.3" text-anchor="start" fill="#1a1a1a" >MW (kDa)</text>
<rect x="566.00" y="69.10" width="48.50" height="15.90" fill="#b9b9b9" />
<rect x="568.25" y="76.80" width="8.5" height="2.4" rx="1" fill="#000" opacity="0.90" filter="url(#b3)"/>
<rect x="579.75" y="76.80" width="8.5" height="2.4" rx="1" fill="#000" opacity="0.85" filter="url(#b3)"/>
<rect x="591.35" y="76.80" width="8.5" height="2.4" rx="1" fill="#000" opacity="0.15" filter="url(#b3)"/>
<rect x="603.25" y="76.80" width="8.5" height="2.4" rx="1" fill="#000" opacity="0.12" filter="url(#b3)"/>
<rect x="566.00" y="69.10" width="48.50" height="15.90" fill="none" stroke="#333" stroke-width="1.3" />
<rect x="566.00" y="104.30" width="48.50" height="16.30" fill="#e6e6e6" />
<rect x="567.40" y="110.50" width="10.2" height="4" rx="1" fill="#000" opacity="0.95" filter="url(#b3)"/>
<rect x="578.90" y="110.50" width="10.2" height="4" rx="1" fill="#000" opacity="0.95" filter="url(#b3)"/>
<rect x="590.50" y="110.50" width="10.2" height="4" rx="1" fill="#000" opacity="0.95" filter="url(#b3)"/>
<rect x="602.40" y="110.50" width="10.2" height="4" rx="1" fill="#000" opacity="0.95" filter="url(#b3)"/>
<rect x="566.00" y="104.30" width="48.50" height="16.30" fill="none" stroke="#333" stroke-width="1.3" />
<text x="562.50" y="81.00" font-size="8.4" text-anchor="end" fill="#1a1a1a" >CDK11</text>
<text x="562.50" y="116.10" font-size="8.2" text-anchor="end" fill="#1a1a1a" >Tubulin</text>
<text x="549.70" y="95.30" font-size="7.2" text-anchor="start" fill="#1a1a1a" >ratio</text>
<text x="572.10" y="95.30" font-size="7.2" text-anchor="middle" fill="#1a1a1a" >1</text>
<text x="583.80" y="95.30" font-size="7.2" text-anchor="middle" fill="#1a1a1a" >1</text>
<text x="594.00" y="95.30" font-size="7.2" text-anchor="middle" fill="#1a1a1a" >0.2</text>
<text x="607.50" y="95.30" font-size="7.2" text-anchor="middle" fill="#1a1a1a" >0.2</text>
<line x1="614.50" y1="75.60" x2="617.00" y2="75.60" stroke="#222" stroke-width="0.9" />
<text x="617.80" y="78.30" font-size="7.5" text-anchor="start" fill="#1a1a1a" >130</text>
<line x1="614.50" y1="114.70" x2="617.00" y2="114.70" stroke="#222" stroke-width="0.9" />
<text x="617.80" y="117.40" font-size="7.5" text-anchor="start" fill="#1a1a1a" >55</text>
<line x1="47.05" y1="417.80" x2="262" y2="417.80" stroke="#000" stroke-width="1.6" stroke-dasharray="1.7 3.5"/>
<line x1="52.50" y1="417.50" x2="52.50" y2="417.80" stroke="#000000" stroke-width="1.1" />
<line x1="50.50" y1="417.50" x2="54.50" y2="417.50" stroke="#000000" stroke-width="1.0" />
<rect x="48.10" y="415.40" width="8.80" height="107.10" fill="#000000" rx="2"/>
<line x1="62.01" y1="403.83" x2="62.01" y2="417.06" stroke="#404040" stroke-width="1.1" />
<line x1="60.01" y1="403.83" x2="64.01" y2="403.83" stroke="#404040" stroke-width="1.0" />
<rect x="57.61" y="417.06" width="8.80" height="105.44" fill="#404040" />
<rect x="60.31" y="431.29" width="3.40" height="91.21" fill="#9c9c9c" />
<circle cx="61.01" cy="409.78" r="2.8" fill="#404040"/>
<circle cx="63.51" cy="412.71" r="2.8" fill="#404040"/>
<circle cx="62.01" cy="442.12" r="2.8" fill="#404040"/>
<line x1="71.52" y1="407.71" x2="71.52" y2="411.67" stroke="#595959" stroke-width="1.1" />
<line x1="69.52" y1="407.71" x2="73.52" y2="407.71" stroke="#595959" stroke-width="1.0" />
<rect x="67.12" y="411.67" width="8.80" height="110.83" fill="#595959" />
<rect x="69.82" y="416.64" width="3.40" height="105.86" fill="#b2b2b2" />
<circle cx="70.52" cy="407.32" r="2.8" fill="#595959"/>
<circle cx="73.02" cy="410.70" r="2.8" fill="#595959"/>
<line x1="81.03" y1="405.99" x2="81.03" y2="408.10" stroke="#858585" stroke-width="1.1" />
<line x1="79.03" y1="405.99" x2="83.03" y2="405.99" stroke="#858585" stroke-width="1.0" />
<rect x="76.63" y="408.10" width="8.80" height="114.40" fill="#858585" />
<rect x="79.33" y="411.21" width="3.40" height="111.29" fill="#bdbdbd" />
<circle cx="80.53" cy="405.21" r="2.8" fill="#858585"/>
<circle cx="82.03" cy="407.32" r="2.8" fill="#858585"/>
<line x1="90.54" y1="410.23" x2="90.54" y2="411.67" stroke="#999999" stroke-width="1.1" />
<line x1="88.54" y1="410.23" x2="92.54" y2="410.23" stroke="#999999" stroke-width="1.0" />
<rect x="86.14" y="411.67" width="8.80" height="110.83" fill="#999999" />
<rect x="88.84" y="414.11" width="3.40" height="108.39" fill="#c9c9c9" />
<circle cx="89.54" cy="410.23" r="2.8" fill="#999999"/>
<circle cx="91.54" cy="411.67" r="2.8" fill="#999999"/>
<line x1="100.05" y1="397.64" x2="100.05" y2="399.76" stroke="#cbd02c" stroke-width="1.1" />
<line x1="98.05" y1="397.64" x2="102.05" y2="397.64" stroke="#cbd02c" stroke-width="1.0" />
<rect x="95.65" y="399.76" width="8.80" height="122.74" fill="#cbd02c" />
<rect x="98.35" y="402.87" width="3.40" height="119.63" fill="#e4e78e" />
<circle cx="99.55" cy="397.62" r="2.8" fill="#cbd02c"/>
<circle cx="101.05" cy="400.22" r="2.8" fill="#cbd02c"/>
<line x1="109.56" y1="416.36" x2="109.56" y2="417.80" stroke="#b3b3b3" stroke-width="1.1" />
<line x1="107.56" y1="416.36" x2="111.56" y2="416.36" stroke="#b3b3b3" stroke-width="1.0" />
<rect x="105.16" y="417.80" width="8.80" height="104.70" fill="#b3b3b3" />
<rect x="107.86" y="420.24" width="3.40" height="102.26" fill="#e0e0e0" />
<circle cx="109.56" cy="416.36" r="2.8" fill="#b3b3b3"/>
<line x1="119.07" y1="443.38" x2="119.07" y2="445.50" stroke="#11b24b" stroke-width="1.1" />
<line x1="117.07" y1="443.38" x2="121.07" y2="443.38" stroke="#11b24b" stroke-width="1.0" />
<rect x="114.67" y="445.50" width="8.80" height="77.00" fill="#11b24b" />
<rect x="117.37" y="448.61" width="3.40" height="73.89" fill="#7fd79c" />
<circle cx="118.57" cy="442.90" r="2.8" fill="#11b24b"/>
<circle cx="120.07" cy="445.50" r="2.8" fill="#11b24b"/>
<line x1="128.58" y1="413.10" x2="128.58" y2="417.06" stroke="#cfcfcf" stroke-width="1.1" />
<line x1="126.58" y1="413.10" x2="130.58" y2="413.10" stroke="#cfcfcf" stroke-width="1.0" />
<rect x="124.18" y="417.06" width="8.80" height="105.44" fill="#cfcfcf" />
<rect x="126.88" y="422.03" width="3.40" height="100.47" fill="#e9e9e9" />
<circle cx="128.58" cy="411.67" r="2.8" fill="#cfcfcf"/>
<line x1="138.09" y1="414.25" x2="138.09" y2="416.36" stroke="#e2e2e2" stroke-width="1.1" />
<line x1="136.09" y1="414.25" x2="140.09" y2="414.25" stroke="#e2e2e2" stroke-width="1.0" />
<rect x="133.69" y="416.36" width="8.80" height="106.14" fill="#e2e2e2" />
<rect x="136.39" y="419.47" width="3.40" height="103.03" fill="#f1f1f1" />
<circle cx="138.09" cy="413.83" r="2.8" fill="#e2e2e2"/>
<line x1="147.60" y1="388.03" x2="147.60" y2="389.74" stroke="#ee9527" stroke-width="1.1" />
<line x1="145.60" y1="388.03" x2="149.60" y2="388.03" stroke="#ee9527" stroke-width="1.0" />
<rect x="143.20" y="389.74" width="8.80" height="132.76" fill="#ee9527" />
<rect x="145.90" y="392.46" width="3.40" height="130.04" fill="#f7ca8e" />
<circle cx="146.60" cy="386.76" r="2.8" fill="#ee9527"/>
<circle cx="148.80" cy="389.51" r="2.8" fill="#ee9527"/>
<line x1="160.80" y1="417.50" x2="160.80" y2="417.80" stroke="#000000" stroke-width="1.1" />
<line x1="158.80" y1="417.50" x2="162.80" y2="417.50" stroke="#000000" stroke-width="1.0" />
<rect x="156.40" y="415.40" width="8.80" height="107.10" fill="#000000" rx="2"/>
<rect x="159.10" y="420.60" width="3.40" height="101.90" fill="#fff" />
<line x1="170.36" y1="411.67" x2="170.36" y2="417.80" stroke="#404040" stroke-width="1.1" />
<line x1="168.36" y1="411.67" x2="172.36" y2="411.67" stroke="#404040" stroke-width="1.0" />
<rect x="165.96" y="417.80" width="8.80" height="104.70" fill="#404040" />
<rect x="168.66" y="424.93" width="3.40" height="97.57" fill="#9c9c9c" />
<circle cx="169.36" cy="411.67" r="2.8" fill="#404040"/>
<circle cx="171.36" cy="415.04" r="2.8" fill="#404040"/>
<line x1="179.92" y1="407.48" x2="179.92" y2="416.36" stroke="#595959" stroke-width="1.1" />
<line x1="177.92" y1="407.48" x2="181.92" y2="407.48" stroke="#595959" stroke-width="1.0" />
<rect x="175.52" y="416.36" width="8.80" height="106.14" fill="#595959" />
<rect x="178.22" y="426.24" width="3.40" height="96.26" fill="#b2b2b2" />
<circle cx="179.92" cy="407.32" r="2.8" fill="#595959"/>
<circle cx="179.92" cy="426.84" r="2.8" fill="#595959"/>
<line x1="189.48" y1="418.18" x2="189.48" y2="424.31" stroke="#858585" stroke-width="1.1" />
<line x1="187.48" y1="418.18" x2="191.48" y2="418.18" stroke="#858585" stroke-width="1.0" />
<rect x="185.08" y="424.31" width="8.80" height="98.19" fill="#858585" />
<rect x="187.78" y="431.44" width="3.40" height="91.06" fill="#bdbdbd" />
<circle cx="189.48" cy="415.69" r="2.8" fill="#858585"/>
<circle cx="189.48" cy="442.12" r="2.8" fill="#858585"/>
<line x1="199.04" y1="407.71" x2="199.04" y2="411.67" stroke="#999999" stroke-width="1.1" />
<line x1="197.04" y1="407.71" x2="201.04" y2="407.71" stroke="#999999" stroke-width="1.0" />
<rect x="194.64" y="411.67" width="8.80" height="110.83" fill="#999999" />
<rect x="197.34" y="416.64" width="3.40" height="105.86" fill="#c9c9c9" />
<circle cx="198.04" cy="407.32" r="2.8" fill="#999999"/>
<circle cx="200.04" cy="410.70" r="2.8" fill="#999999"/>
<line x1="208.60" y1="445.88" x2="208.60" y2="448.63" stroke="#cbd02c" stroke-width="1.1" />
<line x1="206.60" y1="445.88" x2="210.60" y2="445.88" stroke="#cbd02c" stroke-width="1.0" />
<rect x="204.20" y="448.63" width="8.80" height="73.87" fill="#cbd02c" />
<rect x="206.90" y="452.39" width="3.40" height="70.11" fill="#e4e78e" />
<circle cx="207.60" cy="444.58" r="2.8" fill="#cbd02c"/>
<circle cx="209.60" cy="446.47" r="2.8" fill="#cbd02c"/>
<line x1="218.16" y1="414.43" x2="218.16" y2="417.80" stroke="#b3b3b3" stroke-width="1.1" />
<line x1="216.16" y1="414.43" x2="220.16" y2="414.43" stroke="#b3b3b3" stroke-width="1.0" />
<rect x="213.76" y="417.80" width="8.80" height="104.70" fill="#b3b3b3" />
<rect x="216.46" y="422.17" width="3.40" height="100.33" fill="#e0e0e0" />
<circle cx="217.16" cy="414.43" r="2.8" fill="#b3b3b3"/>
<circle cx="219.16" cy="416.36" r="2.8" fill="#b3b3b3"/>
<line x1="227.72" y1="479.83" x2="227.72" y2="485.96" stroke="#11b24b" stroke-width="1.1" />
<line x1="225.72" y1="479.83" x2="229.72" y2="479.83" stroke="#11b24b" stroke-width="1.0" />
<rect x="223.32" y="485.96" width="8.80" height="36.54" fill="#11b24b" />
<rect x="226.02" y="493.09" width="3.40" height="29.41" fill="#7fd79c" />
<circle cx="226.72" cy="481.27" r="2.8" fill="#11b24b"/>
<circle cx="228.72" cy="482.31" r="2.8" fill="#11b24b"/>
<line x1="237.28" y1="410.23" x2="237.28" y2="416.36" stroke="#cfcfcf" stroke-width="1.1" />
<line x1="235.28" y1="410.23" x2="239.28" y2="410.23" stroke="#cfcfcf" stroke-width="1.0" />
<rect x="232.88" y="416.36" width="8.80" height="106.14" fill="#cfcfcf" />
<rect x="235.58" y="423.49" width="3.40" height="99.01" fill="#e9e9e9" />
<circle cx="236.28" cy="408.92" r="2.8" fill="#cfcfcf"/>
<circle cx="238.28" cy="413.83" r="2.8" fill="#cfcfcf"/>
<line x1="246.84" y1="409.96" x2="246.84" y2="415.04" stroke="#e2e2e2" stroke-width="1.1" />
<line x1="244.84" y1="409.96" x2="248.84" y2="409.96" stroke="#e2e2e2" stroke-width="1.0" />
<rect x="242.44" y="415.04" width="8.80" height="107.46" fill="#e2e2e2" />
<rect x="245.14" y="421.13" width="3.40" height="101.37" fill="#f1f1f1" />
<circle cx="245.84" cy="412.18" r="2.8" fill="#e2e2e2"/>
<circle cx="247.84" cy="412.71" r="2.8" fill="#e2e2e2"/>
<line x1="256.40" y1="422.15" x2="256.40" y2="428.28" stroke="#ee9527" stroke-width="1.1" />
<line x1="254.40" y1="422.15" x2="258.40" y2="422.15" stroke="#ee9527" stroke-width="1.0" />
<rect x="252.00" y="428.28" width="8.80" height="94.22" fill="#ee9527" />
<rect x="254.70" y="435.40" width="3.40" height="87.10" fill="#f7ca8e" />
<circle cx="256.40" cy="421.17" r="2.8" fill="#ee9527"/>
<circle cx="256.40" cy="438.75" r="2.8" fill="#ee9527"/>
<line x1="38.70" y1="383.00" x2="46.10" y2="383.00" stroke="#000" stroke-width="1.7" />
<text x="36.60" y="386.10" font-size="8.45" text-anchor="end" font-weight="bold" fill="#000" >10</text>
<line x1="41.70" y1="407.32" x2="46.10" y2="407.32" stroke="#000" stroke-width="1.45" />
<line x1="41.70" y1="401.20" x2="46.10" y2="401.20" stroke="#000" stroke-width="1.45" />
<line x1="41.70" y1="396.85" x2="46.10" y2="396.85" stroke="#000" stroke-width="1.45" />
<line x1="41.70" y1="393.48" x2="46.10" y2="393.48" stroke="#000" stroke-width="1.45" />
<line x1="41.70" y1="390.72" x2="46.10" y2="390.72" stroke="#000" stroke-width="1.45" />
<line x1="41.70" y1="388.39" x2="46.10" y2="388.39" stroke="#000" stroke-width="1.45" />
<line x1="41.70" y1="386.37" x2="46.10" y2="386.37" stroke="#000" stroke-width="1.45" />
<line x1="41.70" y1="384.59" x2="46.10" y2="384.59" stroke="#000" stroke-width="1.45" />
<line x1="38.70" y1="417.80" x2="46.10" y2="417.80" stroke="#000" stroke-width="1.7" />
<text x="36.60" y="420.90" font-size="8.45" text-anchor="end" font-weight="bold" fill="#000" >1</text>
<line x1="41.70" y1="442.12" x2="46.10" y2="442.12" stroke="#000" stroke-width="1.45" />
<line x1="41.70" y1="436.00" x2="46.10" y2="436.00" stroke="#000" stroke-width="1.45" />
<line x1="41.70" y1="431.65" x2="46.10" y2="431.65" stroke="#000" stroke-width="1.45" />
<line x1="41.70" y1="428.28" x2="46.10" y2="428.28" stroke="#000" stroke-width="1.45" />
<line x1="41.70" y1="425.52" x2="46.10" y2="425.52" stroke="#000" stroke-width="1.45" />
<line x1="41.70" y1="423.19" x2="46.10" y2="423.19" stroke="#000" stroke-width="1.45" />
<line x1="41.70" y1="421.17" x2="46.10" y2="421.17" stroke="#000" stroke-width="1.45" />
<line x1="41.70" y1="419.39" x2="46.10" y2="419.39" stroke="#000" stroke-width="1.45" />
<line x1="38.70" y1="452.60" x2="46.10" y2="452.60" stroke="#000" stroke-width="1.7" />
<text x="36.60" y="455.70" font-size="8.45" text-anchor="end" font-weight="bold" fill="#000" >0.1</text>
<line x1="41.70" y1="476.92" x2="46.10" y2="476.92" stroke="#000" stroke-width="1.45" />
<line x1="41.70" y1="470.80" x2="46.10" y2="470.80" stroke="#000" stroke-width="1.45" />
<line x1="41.70" y1="466.45" x2="46.10" y2="466.45" stroke="#000" stroke-width="1.45" />
<line x1="41.70" y1="463.08" x2="46.10" y2="463.08" stroke="#000" stroke-width="1.45" />
<line x1="41.70" y1="460.32" x2="46.10" y2="460.32" stroke="#000" stroke-width="1.45" />
<line x1="41.70" y1="457.99" x2="46.10" y2="457.99" stroke="#000" stroke-width="1.45" />
<line x1="41.70" y1="455.97" x2="46.10" y2="455.97" stroke="#000" stroke-width="1.45" />
<line x1="41.70" y1="454.19" x2="46.10" y2="454.19" stroke="#000" stroke-width="1.45" />
<line x1="38.70" y1="487.40" x2="46.10" y2="487.40" stroke="#000" stroke-width="1.7" />
<text x="36.60" y="490.50" font-size="8.45" text-anchor="end" font-weight="bold" fill="#000" >0.01</text>
<line x1="41.70" y1="511.72" x2="46.10" y2="511.72" stroke="#000" stroke-width="1.45" />
<line x1="41.70" y1="505.60" x2="46.10" y2="505.60" stroke="#000" stroke-width="1.45" />
<line x1="41.70" y1="501.25" x2="46.10" y2="501.25" stroke="#000" stroke-width="1.45" />
<line x1="41.70" y1="497.88" x2="46.10" y2="497.88" stroke="#000" stroke-width="1.45" />
<line x1="41.70" y1="495.12" x2="46.10" y2="495.12" stroke="#000" stroke-width="1.45" />
<line x1="41.70" y1="492.79" x2="46.10" y2="492.79" stroke="#000" stroke-width="1.45" />
<line x1="41.70" y1="490.77" x2="46.10" y2="490.77" stroke="#000" stroke-width="1.45" />
<line x1="41.70" y1="488.99" x2="46.10" y2="488.99" stroke="#000" stroke-width="1.45" />
<line x1="38.70" y1="522.20" x2="46.10" y2="522.20" stroke="#000" stroke-width="1.7" />
<text x="36.60" y="525.30" font-size="8.45" text-anchor="end" font-weight="bold" fill="#000" >0.001</text>
<line x1="46.10" y1="382.15" x2="46.10" y2="523.05" stroke="#000" stroke-width="2.1" />
<line x1="46.00" y1="522.50" x2="264.10" y2="522.50" stroke="#000" stroke-width="1.5" />
<line x1="99.80" y1="522.50" x2="99.80" y2="529.60" stroke="#000" stroke-width="1.5" />
<line x1="208.30" y1="522.50" x2="208.30" y2="529.60" stroke="#000" stroke-width="1.5" />
<line x1="300" y1="417.80" x2="514" y2="417.80" stroke="#000" stroke-width="1.6" stroke-dasharray="1.7 3.5"/>
<line x1="304.80" y1="417.50" x2="304.80" y2="417.80" stroke="#000000" stroke-width="1.1" />
<line x1="302.80" y1="417.50" x2="306.80" y2="417.50" stroke="#000000" stroke-width="1.0" />
<rect x="300.40" y="415.40" width="8.80" height="107.10" fill="#000000" rx="2"/>
<line x1="314.34" y1="412.29" x2="314.34" y2="415.04" stroke="#404040" stroke-width="1.1" />
<line x1="312.34" y1="412.29" x2="316.34" y2="412.29" stroke="#404040" stroke-width="1.0" />
<rect x="309.94" y="415.04" width="8.80" height="107.46" fill="#404040" />
<rect x="312.64" y="418.80" width="3.40" height="103.70" fill="#9c9c9c" />
<circle cx="313.34" cy="411.18" r="2.8" fill="#404040"/>
<circle cx="315.84" cy="413.83" r="2.8" fill="#404040"/>
<line x1="323.88" y1="416.09" x2="323.88" y2="421.17" stroke="#595959" stroke-width="1.1" />
<line x1="321.88" y1="416.09" x2="325.88" y2="416.09" stroke="#595959" stroke-width="1.0" />
<rect x="319.48" y="421.17" width="8.80" height="101.33" fill="#595959" />
<rect x="322.18" y="427.26" width="3.40" height="95.24" fill="#b2b2b2" />
<circle cx="323.88" cy="415.04" r="2.8" fill="#595959"/>
<line x1="333.42" y1="412.71" x2="333.42" y2="417.80" stroke="#858585" stroke-width="1.1" />
<line x1="331.42" y1="412.71" x2="335.42" y2="412.71" stroke="#858585" stroke-width="1.0" />
<rect x="329.02" y="417.80" width="8.80" height="104.70" fill="#858585" />
<rect x="331.72" y="423.89" width="3.40" height="98.61" fill="#bdbdbd" />
<circle cx="332.42" cy="412.18" r="2.8" fill="#858585"/>
<circle cx="334.42" cy="415.04" r="2.8" fill="#858585"/>
<line x1="342.96" y1="412.39" x2="342.96" y2="416.36" stroke="#999999" stroke-width="1.1" />
<line x1="340.96" y1="412.39" x2="344.96" y2="412.39" stroke="#999999" stroke-width="1.0" />
<rect x="338.56" y="416.36" width="8.80" height="106.14" fill="#999999" />
<rect x="341.26" y="421.32" width="3.40" height="101.18" fill="#c9c9c9" />
<circle cx="341.96" cy="411.67" r="2.8" fill="#999999"/>
<circle cx="343.96" cy="413.83" r="2.8" fill="#999999"/>
<line x1="352.50" y1="400.60" x2="352.50" y2="403.36" stroke="#cbd02c" stroke-width="1.1" />
<line x1="350.50" y1="400.60" x2="354.50" y2="400.60" stroke="#cbd02c" stroke-width="1.0" />
<rect x="348.10" y="403.36" width="8.80" height="119.14" fill="#cbd02c" />
<rect x="350.80" y="407.11" width="3.40" height="115.39" fill="#e4e78e" />
<circle cx="351.50" cy="399.76" r="2.8" fill="#cbd02c"/>
<circle cx="354.00" cy="401.71" r="2.8" fill="#cbd02c"/>
<line x1="362.04" y1="413.83" x2="362.04" y2="417.80" stroke="#b3b3b3" stroke-width="1.1" />
<line x1="360.04" y1="413.83" x2="364.04" y2="413.83" stroke="#b3b3b3" stroke-width="1.0" />
<rect x="357.64" y="417.80" width="8.80" height="104.70" fill="#b3b3b3" />
<rect x="360.34" y="422.77" width="3.40" height="99.73" fill="#e0e0e0" />
<circle cx="361.04" cy="412.18" r="2.8" fill="#b3b3b3"/>
<circle cx="363.04" cy="413.83" r="2.8" fill="#b3b3b3"/>
<line x1="371.58" y1="458.26" x2="371.58" y2="461.64" stroke="#11b24b" stroke-width="1.1" />
<line x1="369.58" y1="458.26" x2="373.58" y2="458.26" stroke="#11b24b" stroke-width="1.0" />
<rect x="367.18" y="461.64" width="8.80" height="60.86" fill="#11b24b" />
<rect x="369.88" y="466.01" width="3.40" height="56.49" fill="#7fd79c" />
<circle cx="370.58" cy="456.95" r="2.8" fill="#11b24b"/>
<circle cx="372.58" cy="457.99" r="2.8" fill="#11b24b"/>
<line x1="381.12" y1="414.61" x2="381.12" y2="418.58" stroke="#cfcfcf" stroke-width="1.1" />
<line x1="379.12" y1="414.61" x2="383.12" y2="414.61" stroke="#cfcfcf" stroke-width="1.0" />
<rect x="376.72" y="418.58" width="8.80" height="103.92" fill="#cfcfcf" />
<rect x="379.42" y="423.54" width="3.40" height="98.96" fill="#e9e9e9" />
<circle cx="380.12" cy="414.43" r="2.8" fill="#cfcfcf"/>
<circle cx="382.12" cy="416.36" r="2.8" fill="#cfcfcf"/>
<line x1="390.66" y1="414.31" x2="390.66" y2="417.06" stroke="#e2e2e2" stroke-width="1.1" />
<line x1="388.66" y1="414.31" x2="392.66" y2="414.31" stroke="#e2e2e2" stroke-width="1.0" />
<rect x="386.26" y="417.06" width="8.80" height="105.44" fill="#e2e2e2" />
<rect x="388.96" y="420.82" width="3.40" height="101.68" fill="#f1f1f1" />
<circle cx="389.66" cy="412.71" r="2.8" fill="#e2e2e2"/>
<circle cx="391.66" cy="413.83" r="2.8" fill="#e2e2e2"/>
<line x1="400.20" y1="417.95" x2="400.20" y2="424.08" stroke="#ee9527" stroke-width="1.1" />
<line x1="398.20" y1="417.95" x2="402.20" y2="417.95" stroke="#ee9527" stroke-width="1.0" />
<rect x="395.80" y="424.08" width="8.80" height="98.42" fill="#ee9527" />
<rect x="398.50" y="431.21" width="3.40" height="91.29" fill="#f7ca8e" />
<circle cx="399.20" cy="418.58" r="2.8" fill="#ee9527"/>
<circle cx="401.20" cy="423.19" r="2.8" fill="#ee9527"/>
<circle cx="400.20" cy="432.42" r="2.8" fill="#ee9527"/>
<line x1="413.40" y1="417.50" x2="413.40" y2="417.80" stroke="#000000" stroke-width="1.1" />
<line x1="411.40" y1="417.50" x2="415.40" y2="417.50" stroke="#000000" stroke-width="1.0" />
<rect x="409.00" y="415.40" width="8.80" height="107.10" fill="#000000" rx="2"/>
<rect x="411.70" y="420.60" width="3.40" height="101.90" fill="#fff" />
<line x1="422.95" y1="414.13" x2="422.95" y2="420.26" stroke="#404040" stroke-width="1.1" />
<line x1="420.95" y1="414.13" x2="424.95" y2="414.13" stroke="#404040" stroke-width="1.0" />
<rect x="418.55" y="420.26" width="8.80" height="102.24" fill="#404040" />
<rect x="421.25" y="427.38" width="3.40" height="95.12" fill="#9c9c9c" />
<circle cx="421.95" cy="415.69" r="2.8" fill="#404040"/>
<circle cx="423.95" cy="417.80" r="2.8" fill="#404040"/>
<line x1="432.50" y1="410.70" x2="432.50" y2="417.80" stroke="#595959" stroke-width="1.1" />
<line x1="430.50" y1="410.70" x2="434.50" y2="410.70" stroke="#595959" stroke-width="1.0" />
<rect x="428.10" y="417.80" width="8.80" height="104.70" fill="#595959" />
<rect x="430.80" y="425.90" width="3.40" height="96.60" fill="#b2b2b2" />
<circle cx="432.50" cy="408.10" r="2.8" fill="#595959"/>
<line x1="442.05" y1="400.90" x2="442.05" y2="409.78" stroke="#858585" stroke-width="1.1" />
<line x1="440.05" y1="400.90" x2="444.05" y2="400.90" stroke="#858585" stroke-width="1.0" />
<rect x="437.65" y="409.78" width="8.80" height="112.72" fill="#858585" />
<rect x="440.35" y="419.66" width="3.40" height="102.84" fill="#bdbdbd" />
<circle cx="442.05" cy="401.20" r="2.8" fill="#858585"/>
<line x1="451.60" y1="408.92" x2="451.60" y2="415.04" stroke="#999999" stroke-width="1.1" />
<line x1="449.60" y1="408.92" x2="453.60" y2="408.92" stroke="#999999" stroke-width="1.0" />
<rect x="447.20" y="415.04" width="8.80" height="107.46" fill="#999999" />
<rect x="449.90" y="422.17" width="3.40" height="100.33" fill="#c9c9c9" />
<circle cx="450.60" cy="408.50" r="2.8" fill="#999999"/>
<circle cx="452.60" cy="410.70" r="2.8" fill="#999999"/>
<line x1="461.15" y1="429.05" x2="461.15" y2="432.42" stroke="#cbd02c" stroke-width="1.1" />
<line x1="459.15" y1="429.05" x2="463.15" y2="429.05" stroke="#cbd02c" stroke-width="1.0" />
<rect x="456.75" y="432.42" width="8.80" height="90.08" fill="#cbd02c" />
<rect x="459.45" y="436.80" width="3.40" height="85.70" fill="#e4e78e" />
<circle cx="460.15" cy="429.21" r="2.8" fill="#cbd02c"/>
<circle cx="462.15" cy="431.65" r="2.8" fill="#cbd02c"/>
<line x1="470.70" y1="414.07" x2="470.70" y2="421.17" stroke="#b3b3b3" stroke-width="1.1" />
<line x1="468.70" y1="414.07" x2="472.70" y2="414.07" stroke="#b3b3b3" stroke-width="1.0" />
<rect x="466.30" y="421.17" width="8.80" height="101.33" fill="#b3b3b3" />
<rect x="469.00" y="429.28" width="3.40" height="93.22" fill="#e0e0e0" />
<circle cx="469.70" cy="417.80" r="2.8" fill="#b3b3b3"/>
<circle cx="471.70" cy="420.26" r="2.8" fill="#b3b3b3"/>
<line x1="480.25" y1="468.47" x2="480.25" y2="471.84" stroke="#11b24b" stroke-width="1.1" />
<line x1="478.25" y1="468.47" x2="482.25" y2="468.47" stroke="#11b24b" stroke-width="1.0" />
<rect x="475.85" y="471.84" width="8.80" height="50.66" fill="#11b24b" />
<rect x="478.55" y="476.21" width="3.40" height="46.29" fill="#7fd79c" />
<circle cx="479.25" cy="466.45" r="2.8" fill="#11b24b"/>
<circle cx="481.25" cy="468.47" r="2.8" fill="#11b24b"/>
<line x1="489.80" y1="410.23" x2="489.80" y2="416.36" stroke="#cfcfcf" stroke-width="1.1" />
<line x1="487.80" y1="410.23" x2="491.80" y2="410.23" stroke="#cfcfcf" stroke-width="1.0" />
<rect x="485.40" y="416.36" width="8.80" height="106.14" fill="#cfcfcf" />
<rect x="488.10" y="423.49" width="3.40" height="99.01" fill="#e9e9e9" />
<circle cx="488.80" cy="412.71" r="2.8" fill="#cfcfcf"/>
<circle cx="490.80" cy="414.43" r="2.8" fill="#cfcfcf"/>
<line x1="499.35" y1="407.94" x2="499.35" y2="415.04" stroke="#e2e2e2" stroke-width="1.1" />
<line x1="497.35" y1="407.94" x2="501.35" y2="407.94" stroke="#e2e2e2" stroke-width="1.0" />
<rect x="494.95" y="415.04" width="8.80" height="107.46" fill="#e2e2e2" />
<rect x="497.65" y="423.15" width="3.40" height="99.35" fill="#f1f1f1" />
<circle cx="498.35" cy="410.23" r="2.8" fill="#e2e2e2"/>
<circle cx="500.35" cy="411.67" r="2.8" fill="#e2e2e2"/>
<line x1="508.90" y1="410.70" x2="508.90" y2="417.80" stroke="#ee9527" stroke-width="1.1" />
<line x1="506.90" y1="410.70" x2="510.90" y2="410.70" stroke="#ee9527" stroke-width="1.0" />
<rect x="504.50" y="417.80" width="8.80" height="104.70" fill="#ee9527" />
<rect x="507.20" y="425.90" width="3.40" height="96.60" fill="#f7ca8e" />
<circle cx="508.90" cy="410.23" r="2.8" fill="#ee9527"/>
<circle cx="508.90" cy="430.91" r="2.8" fill="#ee9527"/>
<line x1="291.30" y1="383.00" x2="298.70" y2="383.00" stroke="#000" stroke-width="1.7" />
<text x="289.00" y="386.10" font-size="8.45" text-anchor="end" font-weight="bold" fill="#000" >10</text>
<line x1="294.30" y1="407.32" x2="298.70" y2="407.32" stroke="#000" stroke-width="1.45" />
<line x1="294.30" y1="401.20" x2="298.70" y2="401.20" stroke="#000" stroke-width="1.45" />
<line x1="294.30" y1="396.85" x2="298.70" y2="396.85" stroke="#000" stroke-width="1.45" />
<line x1="294.30" y1="393.48" x2="298.70" y2="393.48" stroke="#000" stroke-width="1.45" />
<line x1="294.30" y1="390.72" x2="298.70" y2="390.72" stroke="#000" stroke-width="1.45" />
<line x1="294.30" y1="388.39" x2="298.70" y2="388.39" stroke="#000" stroke-width="1.45" />
<line x1="294.30" y1="386.37" x2="298.70" y2="386.37" stroke="#000" stroke-width="1.45" />
<line x1="294.30" y1="384.59" x2="298.70" y2="384.59" stroke="#000" stroke-width="1.45" />
<line x1="291.30" y1="417.80" x2="298.70" y2="417.80" stroke="#000" stroke-width="1.7" />
<text x="289.00" y="420.90" font-size="8.45" text-anchor="end" font-weight="bold" fill="#000" >1</text>
<line x1="294.30" y1="442.12" x2="298.70" y2="442.12" stroke="#000" stroke-width="1.45" />
<line x1="294.30" y1="436.00" x2="298.70" y2="436.00" stroke="#000" stroke-width="1.45" />
<line x1="294.30" y1="431.65" x2="298.70" y2="431.65" stroke="#000" stroke-width="1.45" />
<line x1="294.30" y1="428.28" x2="298.70" y2="428.28" stroke="#000" stroke-width="1.45" />
<line x1="294.30" y1="425.52" x2="298.70" y2="425.52" stroke="#000" stroke-width="1.45" />
<line x1="294.30" y1="423.19" x2="298.70" y2="423.19" stroke="#000" stroke-width="1.45" />
<line x1="294.30" y1="421.17" x2="298.70" y2="421.17" stroke="#000" stroke-width="1.45" />
<line x1="294.30" y1="419.39" x2="298.70" y2="419.39" stroke="#000" stroke-width="1.45" />
<line x1="291.30" y1="452.60" x2="298.70" y2="452.60" stroke="#000" stroke-width="1.7" />
<text x="289.00" y="455.70" font-size="8.45" text-anchor="end" font-weight="bold" fill="#000" >0.1</text>
<line x1="294.30" y1="476.92" x2="298.70" y2="476.92" stroke="#000" stroke-width="1.45" />
<line x1="294.30" y1="470.80" x2="298.70" y2="470.80" stroke="#000" stroke-width="1.45" />
<line x1="294.30" y1="466.45" x2="298.70" y2="466.45" stroke="#000" stroke-width="1.45" />
<line x1="294.30" y1="463.08" x2="298.70" y2="463.08" stroke="#000" stroke-width="1.45" />
<line x1="294.30" y1="460.32" x2="298.70" y2="460.32" stroke="#000" stroke-width="1.45" />
<line x1="294.30" y1="457.99" x2="298.70" y2="457.99" stroke="#000" stroke-width="1.45" />
<line x1="294.30" y1="455.97" x2="298.70" y2="455.97" stroke="#000" stroke-width="1.45" />
<line x1="294.30" y1="454.19" x2="298.70" y2="454.19" stroke="#000" stroke-width="1.45" />
<line x1="291.30" y1="487.40" x2="298.70" y2="487.40" stroke="#000" stroke-width="1.7" />
<text x="289.00" y="490.50" font-size="8.45" text-anchor="end" font-weight="bold" fill="#000" >0.01</text>
<line x1="294.30" y1="511.72" x2="298.70" y2="511.72" stroke="#000" stroke-width="1.45" />
<line x1="294.30" y1="505.60" x2="298.70" y2="505.60" stroke="#000" stroke-width="1.45" />
<line x1="294.30" y1="501.25" x2="298.70" y2="501.25" stroke="#000" stroke-width="1.45" />
<line x1="294.30" y1="497.88" x2="298.70" y2="497.88" stroke="#000" stroke-width="1.45" />
<line x1="294.30" y1="495.12" x2="298.70" y2="495.12" stroke="#000" stroke-width="1.45" />
<line x1="294.30" y1="492.79" x2="298.70" y2="492.79" stroke="#000" stroke-width="1.45" />
<line x1="294.30" y1="490.77" x2="298.70" y2="490.77" stroke="#000" stroke-width="1.45" />
<line x1="294.30" y1="488.99" x2="298.70" y2="488.99" stroke="#000" stroke-width="1.45" />
<line x1="291.30" y1="522.20" x2="298.70" y2="522.20" stroke="#000" stroke-width="1.7" />
<text x="289.00" y="525.30" font-size="8.45" text-anchor="end" font-weight="bold" fill="#000" >0.001</text>
<line x1="298.70" y1="382.15" x2="298.70" y2="523.05" stroke="#000" stroke-width="2.1" />
<line x1="298.00" y1="522.50" x2="516.10" y2="522.50" stroke="#000" stroke-width="1.5" />
<line x1="351.60" y1="522.50" x2="351.60" y2="529.60" stroke="#000" stroke-width="1.5" />
<line x1="460.80" y1="522.50" x2="460.80" y2="529.60" stroke="#000" stroke-width="1.5" />
<line x1="50.40" y1="364.30" x2="147.10" y2="364.30" stroke="#2a2a2a" stroke-width="1.35" />
<text x="98.50" y="361.80" font-size="7.4" text-anchor="middle" fill="#1a1a1a" >0.0008</text>
<line x1="50.40" y1="375.20" x2="117.90" y2="375.20" stroke="#2a2a2a" stroke-width="1.35" />
<text x="83.90" y="372.70" font-size="7.4" text-anchor="middle" fill="#1a1a1a" >0.0012</text>
<line x1="50.40" y1="385.40" x2="97.30" y2="385.40" stroke="#2a2a2a" stroke-width="1.35" />
<text x="73.70" y="382.90" font-size="7.4" text-anchor="middle" fill="#1a1a1a" >0.0390</text>
<line x1="158.70" y1="364.30" x2="254.70" y2="364.30" stroke="#2a2a2a" stroke-width="1.35" />
<text x="206.30" y="361.80" font-size="7.4" text-anchor="middle" fill="#1a1a1a" >0.0758</text>
<line x1="158.70" y1="375.20" x2="225.70" y2="375.20" stroke="#2a2a2a" stroke-width="1.35" />
<text x="191.40" y="372.70" font-size="7.4" text-anchor="middle" fill="#1a1a1a" >7.2e-13</text>
<line x1="158.70" y1="385.40" x2="204.60" y2="385.40" stroke="#2a2a2a" stroke-width="1.35" />
<text x="181.80" y="382.90" font-size="7.4" text-anchor="middle" fill="#1a1a1a" >1.4e-06</text>
<line x1="303.60" y1="383.90" x2="371.00" y2="383.90" stroke="#2a2a2a" stroke-width="1.35" />
<text x="337.00" y="381.40" font-size="7.4" text-anchor="middle" fill="#1a1a1a" >2.7e-06</text>
<line x1="413.60" y1="383.90" x2="481.10" y2="383.90" stroke="#2a2a2a" stroke-width="1.35" />
<text x="447.10" y="381.40" font-size="7.4" text-anchor="middle" fill="#1a1a1a" >7.5e-10</text>
<line x1="413.60" y1="394.10" x2="460.80" y2="394.10" stroke="#2a2a2a" stroke-width="1.35" />
<text x="437.20" y="391.60" font-size="7.4" text-anchor="middle" fill="#1a1a1a" >0.0143</text>
<text x="8.50" y="454.60" font-size="8.5" text-anchor="middle" font-weight="bold" transform="rotate(-90 8.5 454.6)" fill="#000" >Normalized transcript level</text>
<rect x="87.30" y="535.80" width="12.50" height="11.70" fill="#00aeef" stroke="#141414" stroke-width="1.2" />
<text x="93.55" y="544.55" font-size="8.3" text-anchor="middle" fill="#12394f" >4</text>
<rect x="99.80" y="535.80" width="12.60" height="11.70" fill="#f15a38" stroke="#141414" stroke-width="1.2" />
<text x="106.10" y="544.55" font-size="8.3" text-anchor="middle" fill="#5a1a10" >PE</text>
<line x1="90.50" y1="550.60" x2="94.50" y2="550.60" stroke="#222" stroke-width="0.9" />
<path d="M93.60,549.35 L95.50,550.60 L93.60,551.85 Z" fill="#222"/>
<line x1="105.70" y1="550.60" x2="101.70" y2="550.60" stroke="#222" stroke-width="0.9" />
<path d="M102.60,549.35 L100.70,550.60 L102.60,551.85 Z" fill="#222"/>
<rect x="196.40" y="535.00" width="11.90" height="11.70" fill="#009e73" stroke="#141414" stroke-width="1.2" />
<text x="202.35" y="543.75" font-size="8.3" text-anchor="middle" fill="#0b3a2a" >4</text>
<rect x="208.30" y="535.00" width="12.40" height="11.70" fill="#009e73" stroke="#141414" stroke-width="1.2" />
<text x="214.50" y="543.75" font-size="8.3" text-anchor="middle" fill="#0b3a2a" >5</text>
<line x1="198.10" y1="549.60" x2="202.10" y2="549.60" stroke="#222" stroke-width="0.9" />
<path d="M201.20,548.35 L203.10,549.60 L201.20,550.85 Z" fill="#222"/>
<line x1="211.30" y1="549.60" x2="207.30" y2="549.60" stroke="#e8202a" stroke-width="0.9" />
<path d="M208.20,548.35 L206.30,549.60 L208.20,550.85 Z" fill="#e8202a"/>
<line x1="87.30" y1="555.60" x2="220.70" y2="555.60" stroke="#111" stroke-width="1.1" />
<text x="107.2" y="564.8" font-size="8.6" fill="#1a1a1a"><tspan font-style="italic">OGT</tspan> RT-qPCR products</text>
<rect x="334.00" y="535.50" width="11.90" height="12.00" fill="#f26a21" stroke="#141414" stroke-width="1.2" />
<text x="339.95" y="544.40" font-size="8.3" text-anchor="middle" fill="#4a1a05" >10</text>
<rect x="345.90" y="535.50" width="25.30" height="12.00" fill="#f26a21" stroke="#141414" stroke-width="1.2" />
<text x="358.55" y="544.40" font-size="8.3" text-anchor="middle" fill="#4a1a05" >12-14</text>
<line x1="340.20" y1="550.60" x2="344.20" y2="550.60" stroke="#222" stroke-width="0.9" />
<path d="M343.30,549.35 L345.20,550.60 L343.30,551.85 Z" fill="#222"/>
<line x1="370.00" y1="550.60" x2="366.00" y2="550.60" stroke="#222" stroke-width="0.9" />
<path d="M366.90,549.35 L365.00,550.60 L366.90,551.85 Z" fill="#222"/>
<rect x="442.40" y="535.50" width="12.40" height="12.00" fill="#009e73" stroke="#141414" stroke-width="1.2" />
<text x="448.60" y="544.40" font-size="8.3" text-anchor="middle" fill="#0b3a2a" >11</text>
<rect x="454.80" y="535.50" width="11.90" height="12.00" fill="#009e73" stroke="#141414" stroke-width="1.2" />
<text x="460.75" y="544.40" font-size="8.3" text-anchor="middle" fill="#0b3a2a" >12</text>
<rect x="466.70" y="535.50" width="12.70" height="12.00" fill="#009e73" stroke="#141414" stroke-width="1.2" />
<text x="473.05" y="544.40" font-size="8.3" text-anchor="middle" fill="#0b3a2a" >13</text>
<line x1="448.60" y1="550.60" x2="452.60" y2="550.60" stroke="#222" stroke-width="0.9" />
<path d="M451.70,549.35 L453.60,550.60 L451.70,551.85 Z" fill="#222"/>
<line x1="470.20" y1="550.60" x2="466.20" y2="550.60" stroke="#222" stroke-width="0.9" />
<path d="M467.10,549.35 L465.20,550.60 L467.10,551.85 Z" fill="#222"/>
<line x1="334.00" y1="555.60" x2="478.90" y2="555.60" stroke="#111" stroke-width="1.1" />
<text x="359.6" y="564.8" font-size="8.6" fill="#1a1a1a"><tspan font-style="italic">OGA</tspan> RT-qPCR products</text>
<rect x="17.70" y="577.40" width="9.60" height="3.60" fill="#fff" stroke="#000" stroke-width="1.6" />
<text x="34.20" y="582.20" font-size="8.6" text-anchor="start" fill="#1a1a1a" >DMSO</text>
<rect x="83.40" y="577.40" width="9.60" height="3.60" fill="#9c9c9c" stroke="#404040" stroke-width="1.6" />
<text x="100.00" y="582.20" font-size="8.6" text-anchor="start" fill="#1a1a1a" >10 µM RECTAS</text>
<rect x="177.40" y="577.40" width="9.60" height="3.60" fill="#b2b2b2" stroke="#595959" stroke-width="1.6" />
<text x="193.40" y="576.20" font-size="8.6" text-anchor="start" fill="#1a1a1a" >25 µM</text>
<text x="193.40" y="586.10" font-size="8.6" text-anchor="start" fill="#1a1a1a" >SRPIN340</text>
<rect x="249.60" y="577.40" width="9.60" height="3.60" fill="#bdbdbd" stroke="#858585" stroke-width="1.6" />
<text x="266.60" y="582.20" font-size="8.6" text-anchor="start" fill="#1a1a1a" >1 µM branaplam</text>
<rect x="338.00" y="577.40" width="9.60" height="3.60" fill="#c9c9c9" stroke="#999999" stroke-width="1.6" />
<text x="355.10" y="582.20" font-size="8.6" text-anchor="start" fill="#1a1a1a" >10 µM TG003</text>
<rect x="418.70" y="577.40" width="9.60" height="3.60" fill="#e4e78e" stroke="#cbd02c" stroke-width="1.6" />
<text x="435.20" y="582.20" font-size="8.6" text-anchor="start" fill="#1a1a1a" >5 µM indisulam</text>
<rect x="55.80" y="596.00" width="9.60" height="3.60" fill="#e0e0e0" stroke="#b3b3b3" stroke-width="1.6" />
<text x="72.70" y="595.30" font-size="8.6" text-anchor="start" fill="#1a1a1a" >1 µM</text>
<text x="72.70" y="605.20" font-size="8.6" text-anchor="start" fill="#1a1a1a" >GSK3326595</text>
<rect x="135.50" y="596.00" width="9.60" height="3.60" fill="#7fd79c" stroke="#11b24b" stroke-width="1.6" />
<text x="151.90" y="600.80" font-size="8.6" text-anchor="start" fill="#1a1a1a" >50 nM OTS964</text>
<rect x="220.30" y="596.00" width="9.60" height="3.60" fill="#e9e9e9" stroke="#cfcfcf" stroke-width="1.6" />
<text x="236.40" y="595.30" font-size="8.6" text-anchor="start" fill="#1a1a1a" >500 nM</text>
<text x="236.40" y="605.20" font-size="8.6" text-anchor="start" fill="#1a1a1a" >PROTAC-O4I2</text>
<rect x="301.30" y="596.00" width="9.60" height="3.60" fill="#f1f1f1" stroke="#e2e2e2" stroke-width="1.6" />
<text x="317.90" y="600.80" font-size="8.6" text-anchor="start" fill="#1a1a1a" >5 µM EHT 1610</text>
<rect x="383.90" y="596.00" width="9.60" height="3.60" fill="#f7ca8e" stroke="#ee9527" stroke-width="1.6" />
<text x="400.50" y="600.80" font-size="8.6" text-anchor="start" fill="#1a1a1a" >5 µM GNF 2133</text>
<line x1="495.6" y1="194.30" x2="571.3" y2="194.30" stroke="#000" stroke-width="1.6" stroke-dasharray="1.6 2.66"/>
<rect x="492.90" y="194.50" width="8.40" height="52.10" fill="#000" />
<circle cx="497.10" cy="194.50" r="4.1" fill="#000"/>
<rect x="501.80" y="194.50" width="8.40" height="52.10" fill="#000" />
<circle cx="506.00" cy="194.50" r="4.1" fill="#000"/>
<rect x="511.10" y="212.07" width="8.60" height="34.53" fill="#39b54a" />
<rect x="514.10" y="217.07" width="2.60" height="29.53" fill="#8fd69a" />
<circle cx="515.40" cy="208.44" r="4.0" fill="#39b54a"/>
<rect x="520.70" y="216.10" width="8.60" height="30.50" fill="#39b54a" />
<rect x="523.70" y="221.10" width="2.60" height="25.50" fill="#8fd69a" />
<circle cx="525.00" cy="211.20" r="3.5" fill="#8fd69a" stroke="#39b54a" stroke-width="1.4"/>
<circle cx="525.00" cy="211.20" r="1.3" fill="#39b54a"/>
<circle cx="525.00" cy="221.52" r="3.5" fill="#8fd69a" stroke="#39b54a" stroke-width="1.4"/>
<circle cx="525.00" cy="221.52" r="1.3" fill="#39b54a"/>
<rect x="533.50" y="197.39" width="8.40" height="49.21" fill="#000" />
<rect x="535.80" y="202.39" width="3.80" height="44.21" fill="#fff" />
<line x1="537.70" y1="203.39" x2="537.70" y2="246.60" stroke="#c4c4c4" stroke-width="1.4" stroke-dasharray="0.7 0.7"/>
<circle cx="537.70" cy="197.39" r="4.1" fill="#000"/>
<rect x="542.70" y="191.40" width="8.40" height="55.20" fill="#000" />
<rect x="545.00" y="196.40" width="3.80" height="50.20" fill="#fff" />
<line x1="546.90" y1="197.40" x2="546.90" y2="246.60" stroke="#c4c4c4" stroke-width="1.4" stroke-dasharray="0.7 0.7"/>
<circle cx="546.90" cy="191.40" r="4.1" fill="#000"/>
<rect x="551.70" y="188.56" width="8.60" height="58.04" fill="#39b54a" />
<rect x="554.70" y="193.56" width="2.60" height="53.04" fill="#8fd69a" />
<circle cx="556.00" cy="188.56" r="4.0" fill="#39b54a"/>
<rect x="561.10" y="185.33" width="8.60" height="61.27" fill="#39b54a" />
<rect x="564.10" y="190.33" width="2.60" height="56.27" fill="#8fd69a" />
<circle cx="565.40" cy="180.83" r="3.5" fill="#8fd69a" stroke="#39b54a" stroke-width="1.4"/>
<circle cx="565.40" cy="180.83" r="1.3" fill="#39b54a"/>
<circle cx="565.40" cy="186.57" r="3.5" fill="#8fd69a" stroke="#39b54a" stroke-width="1.4"/>
<circle cx="565.40" cy="186.57" r="1.3" fill="#39b54a"/>
<line x1="483.50" y1="142.40" x2="490.90" y2="142.40" stroke="#000" stroke-width="1.7" />
<text x="481.90" y="145.50" font-size="8.6" text-anchor="end" font-weight="bold" fill="#000" >10</text>
<line x1="486.50" y1="178.82" x2="490.90" y2="178.82" stroke="#000" stroke-width="1.45" />
<line x1="486.50" y1="169.64" x2="490.90" y2="169.64" stroke="#000" stroke-width="1.45" />
<line x1="486.50" y1="163.13" x2="490.90" y2="163.13" stroke="#000" stroke-width="1.45" />
<line x1="486.50" y1="158.08" x2="490.90" y2="158.08" stroke="#000" stroke-width="1.45" />
<line x1="486.50" y1="153.96" x2="490.90" y2="153.96" stroke="#000" stroke-width="1.45" />
<line x1="486.50" y1="150.47" x2="490.90" y2="150.47" stroke="#000" stroke-width="1.45" />
<line x1="486.50" y1="147.45" x2="490.90" y2="147.45" stroke="#000" stroke-width="1.45" />
<line x1="486.50" y1="144.78" x2="490.90" y2="144.78" stroke="#000" stroke-width="1.45" />
<line x1="483.50" y1="194.50" x2="490.90" y2="194.50" stroke="#000" stroke-width="1.7" />
<text x="481.90" y="197.60" font-size="8.6" text-anchor="end" font-weight="bold" fill="#000" >1</text>
<line x1="486.50" y1="230.92" x2="490.90" y2="230.92" stroke="#000" stroke-width="1.45" />
<line x1="486.50" y1="221.74" x2="490.90" y2="221.74" stroke="#000" stroke-width="1.45" />
<line x1="486.50" y1="215.23" x2="490.90" y2="215.23" stroke="#000" stroke-width="1.45" />
<line x1="486.50" y1="210.18" x2="490.90" y2="210.18" stroke="#000" stroke-width="1.45" />
<line x1="486.50" y1="206.06" x2="490.90" y2="206.06" stroke="#000" stroke-width="1.45" />
<line x1="486.50" y1="202.57" x2="490.90" y2="202.57" stroke="#000" stroke-width="1.45" />
<line x1="486.50" y1="199.55" x2="490.90" y2="199.55" stroke="#000" stroke-width="1.45" />
<line x1="486.50" y1="196.88" x2="490.90" y2="196.88" stroke="#000" stroke-width="1.45" />
<line x1="483.50" y1="246.60" x2="490.90" y2="246.60" stroke="#000" stroke-width="1.7" />
<text x="481.90" y="249.70" font-size="8.6" text-anchor="end" font-weight="bold" fill="#000" >0.1</text>
<line x1="490.90" y1="141.55" x2="490.90" y2="247.45" stroke="#000" stroke-width="1.9" />
<line x1="490.70" y1="246.60" x2="571.50" y2="246.60" stroke="#000" stroke-width="1.5" />
<line x1="510.20" y1="246.60" x2="510.20" y2="254.00" stroke="#000" stroke-width="1.5" />
<line x1="550.90" y1="246.60" x2="550.90" y2="254.00" stroke="#000" stroke-width="1.5" />
<line x1="602.3" y1="194.30" x2="679.3" y2="194.30" stroke="#000" stroke-width="1.6" stroke-dasharray="1.6 2.66"/>
<rect x="600.20" y="193.08" width="8.40" height="53.52" fill="#000" />
<circle cx="604.40" cy="193.08" r="4.1" fill="#000"/>
<rect x="609.50" y="195.66" width="8.40" height="50.94" fill="#000" />
<circle cx="613.70" cy="195.66" r="4.1" fill="#000"/>
<rect x="618.60" y="192.34" width="8.60" height="54.26" fill="#39b54a" />
<rect x="621.60" y="197.34" width="2.60" height="49.26" fill="#8fd69a" />
<circle cx="622.90" cy="192.34" r="4.0" fill="#39b54a"/>
<rect x="628.20" y="191.94" width="8.60" height="54.66" fill="#39b54a" />
<rect x="631.20" y="196.94" width="2.60" height="49.66" fill="#8fd69a" />
<circle cx="632.50" cy="190.00" r="3.5" fill="#8fd69a" stroke="#39b54a" stroke-width="1.4"/>
<circle cx="632.50" cy="190.00" r="1.3" fill="#39b54a"/>
<rect x="640.60" y="195.66" width="8.40" height="50.94" fill="#000" />
<rect x="642.90" y="200.66" width="3.80" height="45.94" fill="#fff" />
<line x1="644.80" y1="201.66" x2="644.80" y2="246.60" stroke="#c4c4c4" stroke-width="1.4" stroke-dasharray="0.7 0.7"/>
<circle cx="644.80" cy="195.66" r="4.1" fill="#000"/>
<rect x="649.80" y="192.34" width="8.40" height="54.26" fill="#000" />
<rect x="652.10" y="197.34" width="3.80" height="49.26" fill="#fff" />
<line x1="654.00" y1="198.34" x2="654.00" y2="246.60" stroke="#c4c4c4" stroke-width="1.4" stroke-dasharray="0.7 0.7"/>
<circle cx="654.00" cy="192.34" r="4.1" fill="#000"/>
<rect x="659.00" y="186.57" width="8.60" height="60.03" fill="#39b54a" />
<rect x="662.00" y="191.57" width="2.60" height="55.03" fill="#8fd69a" />
<circle cx="663.30" cy="186.57" r="4.0" fill="#39b54a"/>
<rect x="668.50" y="184.29" width="8.60" height="62.31" fill="#39b54a" />
<rect x="671.50" y="189.29" width="2.60" height="57.31" fill="#8fd69a" />
<circle cx="672.80" cy="184.29" r="4.0" fill="#39b54a"/>
<line x1="591.30" y1="142.40" x2="598.70" y2="142.40" stroke="#000" stroke-width="1.7" />
<text x="589.50" y="145.50" font-size="8.6" text-anchor="end" font-weight="bold" fill="#000" >10</text>
<line x1="594.30" y1="178.82" x2="598.70" y2="178.82" stroke="#000" stroke-width="1.45" />
<line x1="594.30" y1="169.64" x2="598.70" y2="169.64" stroke="#000" stroke-width="1.45" />
<line x1="594.30" y1="163.13" x2="598.70" y2="163.13" stroke="#000" stroke-width="1.45" />
<line x1="594.30" y1="158.08" x2="598.70" y2="158.08" stroke="#000" stroke-width="1.45" />
<line x1="594.30" y1="153.96" x2="598.70" y2="153.96" stroke="#000" stroke-width="1.45" />
<line x1="594.30" y1="150.47" x2="598.70" y2="150.47" stroke="#000" stroke-width="1.45" />
<line x1="594.30" y1="147.45" x2="598.70" y2="147.45" stroke="#000" stroke-width="1.45" />
<line x1="594.30" y1="144.78" x2="598.70" y2="144.78" stroke="#000" stroke-width="1.45" />
<line x1="591.30" y1="194.50" x2="598.70" y2="194.50" stroke="#000" stroke-width="1.7" />
<text x="589.50" y="197.60" font-size="8.6" text-anchor="end" font-weight="bold" fill="#000" >1</text>
<line x1="594.30" y1="230.92" x2="598.70" y2="230.92" stroke="#000" stroke-width="1.45" />
<line x1="594.30" y1="221.74" x2="598.70" y2="221.74" stroke="#000" stroke-width="1.45" />
<line x1="594.30" y1="215.23" x2="598.70" y2="215.23" stroke="#000" stroke-width="1.45" />
<line x1="594.30" y1="210.18" x2="598.70" y2="210.18" stroke="#000" stroke-width="1.45" />
<line x1="594.30" y1="206.06" x2="598.70" y2="206.06" stroke="#000" stroke-width="1.45" />
<line x1="594.30" y1="202.57" x2="598.70" y2="202.57" stroke="#000" stroke-width="1.45" />
<line x1="594.30" y1="199.55" x2="598.70" y2="199.55" stroke="#000" stroke-width="1.45" />
<line x1="594.30" y1="196.88" x2="598.70" y2="196.88" stroke="#000" stroke-width="1.45" />
<line x1="591.30" y1="246.60" x2="598.70" y2="246.60" stroke="#000" stroke-width="1.7" />
<text x="589.50" y="249.70" font-size="8.6" text-anchor="end" font-weight="bold" fill="#000" >0.1</text>
<line x1="598.70" y1="141.55" x2="598.70" y2="247.45" stroke="#000" stroke-width="1.9" />
<line x1="598.40" y1="246.60" x2="679.50" y2="246.60" stroke="#000" stroke-width="1.5" />
<line x1="618.20" y1="246.60" x2="618.20" y2="254.00" stroke="#000" stroke-width="1.5" />
<line x1="658.30" y1="246.60" x2="658.30" y2="254.00" stroke="#000" stroke-width="1.5" />
<text x="452.70" y="200.70" font-size="8.5" text-anchor="middle" font-weight="bold" transform="rotate(-90 452.7 200.7)" fill="#000" >Normalized</text>
<text x="462.70" y="200.70" font-size="8.5" text-anchor="middle" font-weight="bold" transform="rotate(-90 462.7 200.7)" fill="#000" >transcript level</text>
<rect x="498.80" y="260.40" width="11.90" height="11.60" fill="#00aeef" stroke="#141414" stroke-width="1.2" />
<text x="504.75" y="269.10" font-size="8.3" text-anchor="middle" fill="#12394f" >4</text>
<rect x="510.70" y="260.40" width="11.90" height="11.60" fill="#f15a38" stroke="#141414" stroke-width="1.2" />
<text x="516.65" y="269.10" font-size="8.3" text-anchor="middle" fill="#5a1a10" >PE</text>
<line x1="502.00" y1="275.30" x2="506.00" y2="275.30" stroke="#222" stroke-width="0.9" />
<path d="M505.10,274.05 L507.00,275.30 L505.10,276.55 Z" fill="#222"/>
<line x1="517.00" y1="275.30" x2="513.00" y2="275.30" stroke="#222" stroke-width="0.9" />
<path d="M513.90,274.05 L512.00,275.30 L513.90,276.55 Z" fill="#222"/>
<rect x="538.80" y="260.40" width="12.10" height="11.60" fill="#009e73" stroke="#141414" stroke-width="1.2" />
<text x="544.85" y="269.10" font-size="8.3" text-anchor="middle" fill="#0b3a2a" >4</text>
<rect x="550.90" y="260.40" width="11.90" height="11.60" fill="#009e73" stroke="#141414" stroke-width="1.2" />
<text x="556.85" y="269.10" font-size="8.3" text-anchor="middle" fill="#0b3a2a" >5</text>
<line x1="540.50" y1="275.30" x2="544.50" y2="275.30" stroke="#222" stroke-width="0.9" />
<path d="M543.60,274.05 L545.50,275.30 L543.60,276.55 Z" fill="#222"/>
<line x1="553.50" y1="275.30" x2="549.50" y2="275.30" stroke="#e8202a" stroke-width="0.9" />
<path d="M550.40,274.05 L548.50,275.30 L550.40,276.55 Z" fill="#e8202a"/>
<line x1="498.60" y1="281.90" x2="562.90" y2="281.90" stroke="#111" stroke-width="1.1" />
<text x="483" y="294.8" font-size="8.6" fill="#1a1a1a"><tspan font-style="italic">OGT</tspan> RT-qPCR products</text>
<rect x="600.30" y="258.00" width="12.20" height="11.40" fill="#f26a21" stroke="#141414" stroke-width="1.2" />
<text x="606.40" y="266.60" font-size="8.3" text-anchor="middle" fill="#4a1a05" >10</text>
<rect x="612.50" y="258.00" width="24.70" height="11.40" fill="#f26a21" stroke="#141414" stroke-width="1.2" />
<text x="624.85" y="266.60" font-size="8.3" text-anchor="middle" fill="#4a1a05" >12-14</text>
<line x1="606.50" y1="272.90" x2="610.50" y2="272.90" stroke="#222" stroke-width="0.9" />
<path d="M609.60,271.65 L611.50,272.90 L609.60,274.15 Z" fill="#222"/>
<line x1="635.50" y1="272.90" x2="631.50" y2="272.90" stroke="#222" stroke-width="0.9" />
<path d="M632.40,271.65 L630.50,272.90 L632.40,274.15 Z" fill="#222"/>
<rect x="641.20" y="258.00" width="12.40" height="11.40" fill="#009e73" stroke="#141414" stroke-width="1.2" />
<text x="647.40" y="266.60" font-size="8.3" text-anchor="middle" fill="#0b3a2a" >11</text>
<rect x="653.60" y="258.00" width="12.30" height="11.40" fill="#009e73" stroke="#141414" stroke-width="1.2" />
<text x="659.75" y="266.60" font-size="8.3" text-anchor="middle" fill="#0b3a2a" >12</text>
<rect x="665.90" y="258.00" width="12.70" height="11.40" fill="#009e73" stroke="#141414" stroke-width="1.2" />
<text x="672.25" y="266.60" font-size="8.3" text-anchor="middle" fill="#0b3a2a" >13</text>
<line x1="647.50" y1="272.90" x2="651.50" y2="272.90" stroke="#222" stroke-width="0.9" />
<path d="M650.60,271.65 L652.50,272.90 L650.60,274.15 Z" fill="#222"/>
<line x1="669.00" y1="272.90" x2="665.00" y2="272.90" stroke="#222" stroke-width="0.9" />
<path d="M665.90,271.65 L664.00,272.90 L665.90,274.15 Z" fill="#222"/>
<line x1="599.80" y1="281.90" x2="678.20" y2="281.90" stroke="#111" stroke-width="1.1" />
<text x="592.3" y="296.9" font-size="8.55" fill="#1a1a1a"><tspan font-style="italic">OGA</tspan> RT-qPCR products</text>
<circle cx="517.60" cy="306.00" r="3.85" fill="#000"/>
<text x="538.30" y="308.90" font-size="8.4" text-anchor="start" fill="#1a1a1a" >siCTRL #1</text>
<circle cx="593.30" cy="306.00" r="3.85" fill="#39b54a"/>
<text x="613.80" y="308.90" font-size="8.4" text-anchor="start" fill="#1a1a1a" >siCDK11 #1</text>
<circle cx="517.60" cy="322.70" r="3.8" fill="#fff" stroke="#000" stroke-width="1.6"/>
<circle cx="517.60" cy="322.70" r="1.7" fill="#000"/>
<text x="538.30" y="325.60" font-size="8.4" text-anchor="start" fill="#1a1a1a" >siCTRL #2</text>
<circle cx="593.30" cy="322.70" r="3.8" fill="#8fd69a" stroke="#39b54a" stroke-width="1.6"/>
<circle cx="593.30" cy="322.70" r="1.6" fill="#39b54a"/>
<text x="613.80" y="325.60" font-size="8.4" text-anchor="start" fill="#1a1a1a" >siCDK11 #2</text>
</svg></body></html>
